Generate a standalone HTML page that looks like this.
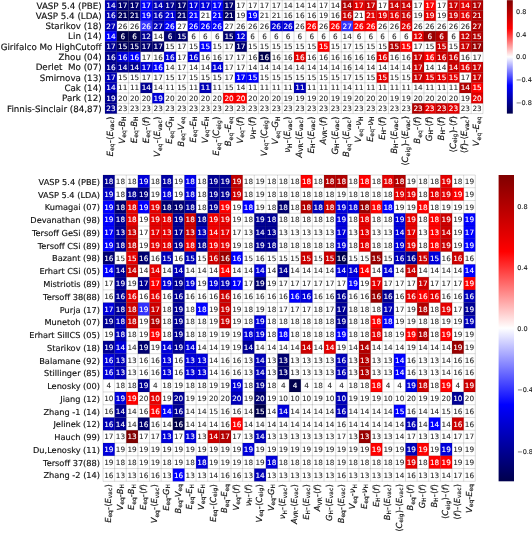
<!DOCTYPE html>
<html><head><meta charset="utf-8"><title>heatmap</title>
<style>html,body{margin:0;padding:0;background:#fff}svg{display:block}text{font-family:"DejaVu Sans","Liberation Sans",sans-serif;text-rendering:geometricPrecision}.a{font-size:7.3px;text-anchor:middle}.w{fill:#fff;stroke:#fff;stroke-width:.1}.k{fill:#222;stroke:#222;stroke-width:.05}.rl{text-anchor:end;fill:#111;stroke:#111;stroke-width:.15}.cl{text-anchor:end;fill:#111;stroke:#111;stroke-width:.15}.i{font-style:italic}.cb{font-size:6.5px;fill:#222;stroke:#222;stroke-width:.1}</style></head><body>
<svg width="532" height="534" viewBox="0 0 532 534">
<defs><linearGradient id="sg" x1="0" y1="0" x2="0" y2="1"><stop offset="0" stop-color="#800000"/><stop offset="0.25" stop-color="#ff0000"/><stop offset="0.5" stop-color="#ffffff"/><stop offset="0.75" stop-color="#0000ff"/><stop offset="1" stop-color="#00004c"/></linearGradient></defs>
<rect width="532" height="534" fill="#fff"/>
<g>
<rect x="105" y="0.2" width="11.86" height="10.36" fill="#0000b8"/><rect x="116.81" y="0.2" width="11.86" height="10.36" fill="#000070"/><rect x="128.62" y="0.2" width="11.86" height="10.36" fill="#000070"/><rect x="140.44" y="0.2" width="11.86" height="10.36" fill="#0000ff"/><rect x="152.25" y="0.2" width="11.86" height="10.36" fill="#0000b8"/><rect x="164.06" y="0.2" width="11.86" height="10.36" fill="#000094"/><rect x="175.88" y="0.2" width="11.86" height="10.36" fill="#000070"/><rect x="187.69" y="0.2" width="11.86" height="10.36" fill="#0000db"/><rect x="199.5" y="0.2" width="11.86" height="10.36" fill="#0000db"/><rect x="211.31" y="0.2" width="11.86" height="10.36" fill="#0000ff"/><rect x="223.12" y="0.2" width="11.86" height="10.36" fill="#000070"/><rect x="341.25" y="0.2" width="11.86" height="10.36" fill="#b20000"/><rect x="353.06" y="0.2" width="11.86" height="10.36" fill="#e50000"/><rect x="364.88" y="0.2" width="11.86" height="10.36" fill="#cc0000"/><rect x="388.5" y="0.2" width="11.86" height="10.36" fill="#cc0000"/><rect x="400.31" y="0.2" width="11.86" height="10.36" fill="#cc0000"/><rect x="423.94" y="0.2" width="11.86" height="10.36" fill="#ff0000"/><rect x="447.56" y="0.2" width="11.86" height="10.36" fill="#cc0000"/><rect x="459.38" y="0.2" width="11.86" height="10.36" fill="#e50000"/><rect x="471.19" y="0.2" width="11.86" height="10.36" fill="#b20000"/>
<rect x="105" y="10.51" width="11.86" height="10.36" fill="#0000b8"/><rect x="116.81" y="10.51" width="11.86" height="10.36" fill="#00005e"/><rect x="128.62" y="10.51" width="11.86" height="10.36" fill="#00005e"/><rect x="140.44" y="10.51" width="11.86" height="10.36" fill="#0000ff"/><rect x="152.25" y="10.51" width="11.86" height="10.36" fill="#0000b8"/><rect x="164.06" y="10.51" width="11.86" height="10.36" fill="#0000db"/><rect x="175.88" y="10.51" width="11.86" height="10.36" fill="#000070"/><rect x="187.69" y="10.51" width="11.86" height="10.36" fill="#0000ff"/><rect x="211.31" y="10.51" width="11.86" height="10.36" fill="#0000ff"/><rect x="223.12" y="10.51" width="11.86" height="10.36" fill="#00005e"/><rect x="246.75" y="10.51" width="11.86" height="10.36" fill="#0000ff"/><rect x="341.25" y="10.51" width="11.86" height="10.36" fill="#cc0000"/><rect x="364.88" y="10.51" width="11.86" height="10.36" fill="#e50000"/><rect x="376.69" y="10.51" width="11.86" height="10.36" fill="#e50000"/><rect x="388.5" y="10.51" width="11.86" height="10.36" fill="#e50000"/><rect x="400.31" y="10.51" width="11.86" height="10.36" fill="#cc0000"/><rect x="423.94" y="10.51" width="11.86" height="10.36" fill="#e50000"/><rect x="447.56" y="10.51" width="11.86" height="10.36" fill="#cc0000"/><rect x="459.38" y="10.51" width="11.86" height="10.36" fill="#e50000"/><rect x="471.19" y="10.51" width="11.86" height="10.36" fill="#b20000"/>
<rect x="105" y="20.82" width="11.86" height="10.36" fill="#0000b8"/><rect x="140.44" y="20.82" width="11.86" height="10.36" fill="#3333ff"/><rect x="152.25" y="20.82" width="11.86" height="10.36" fill="#0000b8"/><rect x="164.06" y="20.82" width="11.86" height="10.36" fill="#0000ff"/><rect x="187.69" y="20.82" width="11.86" height="10.36" fill="#0000ff"/><rect x="199.5" y="20.82" width="11.86" height="10.36" fill="#0000ff"/><rect x="211.31" y="20.82" width="11.86" height="10.36" fill="#0000ff"/><rect x="270.38" y="20.82" width="11.86" height="10.36" fill="#0000db"/><rect x="282.19" y="20.82" width="11.86" height="10.36" fill="#0000db"/><rect x="305.81" y="20.82" width="11.86" height="10.36" fill="#ff0000"/><rect x="329.44" y="20.82" width="11.86" height="10.36" fill="#ff0000"/><rect x="341.25" y="20.82" width="11.86" height="10.36" fill="#3333ff"/><rect x="353.06" y="20.82" width="11.86" height="10.36" fill="#ff0000"/><rect x="364.88" y="20.82" width="11.86" height="10.36" fill="#ff0000"/><rect x="400.31" y="20.82" width="11.86" height="10.36" fill="#e50000"/><rect x="471.19" y="20.82" width="11.86" height="10.36" fill="#b20000"/>
<rect x="105" y="31.13" width="11.86" height="10.36" fill="#0000ff"/><rect x="116.81" y="31.13" width="11.86" height="10.36" fill="#00004c"/><rect x="128.62" y="31.13" width="11.86" height="10.36" fill="#00004c"/><rect x="140.44" y="31.13" width="11.86" height="10.36" fill="#000094"/><rect x="164.06" y="31.13" width="11.86" height="10.36" fill="#000070"/><rect x="175.88" y="31.13" width="11.86" height="10.36" fill="#000070"/><rect x="223.12" y="31.13" width="11.86" height="10.36" fill="#000070"/><rect x="234.94" y="31.13" width="11.86" height="10.36" fill="#0000db"/><rect x="412.12" y="31.13" width="11.86" height="10.36" fill="#e50000"/><rect x="423.94" y="31.13" width="11.86" height="10.36" fill="#990000"/><rect x="435.75" y="31.13" width="11.86" height="10.36" fill="#b20000"/><rect x="459.38" y="31.13" width="11.86" height="10.36" fill="#cc0000"/><rect x="471.19" y="31.13" width="11.86" height="10.36" fill="#b20000"/>
<rect x="105" y="41.44" width="11.86" height="10.36" fill="#000094"/><rect x="116.81" y="41.44" width="11.86" height="10.36" fill="#00005e"/><rect x="128.62" y="41.44" width="11.86" height="10.36" fill="#00005e"/><rect x="140.44" y="41.44" width="11.86" height="10.36" fill="#000070"/><rect x="152.25" y="41.44" width="11.86" height="10.36" fill="#000070"/><rect x="199.5" y="41.44" width="11.86" height="10.36" fill="#0000ff"/><rect x="234.94" y="41.44" width="11.86" height="10.36" fill="#000070"/><rect x="317.62" y="41.44" width="11.86" height="10.36" fill="#ff0000"/><rect x="388.5" y="41.44" width="11.86" height="10.36" fill="#b20000"/><rect x="400.31" y="41.44" width="11.86" height="10.36" fill="#ff0000"/><rect x="435.75" y="41.44" width="11.86" height="10.36" fill="#cc0000"/><rect x="459.38" y="41.44" width="11.86" height="10.36" fill="#cc0000"/><rect x="471.19" y="41.44" width="11.86" height="10.36" fill="#990000"/>
<rect x="105" y="51.75" width="11.86" height="10.36" fill="#000094"/><rect x="116.81" y="51.75" width="11.86" height="10.36" fill="#0000db"/><rect x="128.62" y="51.75" width="11.86" height="10.36" fill="#0000ff"/><rect x="164.06" y="51.75" width="11.86" height="10.36" fill="#0000db"/><rect x="187.69" y="51.75" width="11.86" height="10.36" fill="#0000db"/><rect x="258.56" y="51.75" width="11.86" height="10.36" fill="#00004c"/><rect x="294" y="51.75" width="11.86" height="10.36" fill="#e50000"/><rect x="376.69" y="51.75" width="11.86" height="10.36" fill="#e50000"/><rect x="412.12" y="51.75" width="11.86" height="10.36" fill="#cc0000"/><rect x="423.94" y="51.75" width="11.86" height="10.36" fill="#ff0000"/><rect x="435.75" y="51.75" width="11.86" height="10.36" fill="#cc0000"/><rect x="447.56" y="51.75" width="11.86" height="10.36" fill="#cc0000"/>
<rect x="105" y="62.05" width="11.86" height="10.36" fill="#000094"/><rect x="116.81" y="62.05" width="11.86" height="10.36" fill="#000094"/><rect x="128.62" y="62.05" width="11.86" height="10.36" fill="#000094"/><rect x="140.44" y="62.05" width="11.86" height="10.36" fill="#0000db"/><rect x="152.25" y="62.05" width="11.86" height="10.36" fill="#0000ff"/><rect x="211.31" y="62.05" width="11.86" height="10.36" fill="#0000db"/><rect x="412.12" y="62.05" width="11.86" height="10.36" fill="#cc0000"/><rect x="447.56" y="62.05" width="11.86" height="10.36" fill="#cc0000"/><rect x="459.38" y="62.05" width="11.86" height="10.36" fill="#e50000"/><rect x="471.19" y="62.05" width="11.86" height="10.36" fill="#cc0000"/>
<rect x="105" y="72.36" width="11.86" height="10.36" fill="#0000b8"/><rect x="234.94" y="72.36" width="11.86" height="10.36" fill="#0000ff"/><rect x="246.75" y="72.36" width="11.86" height="10.36" fill="#0000ff"/><rect x="376.69" y="72.36" width="11.86" height="10.36" fill="#e50000"/><rect x="412.12" y="72.36" width="11.86" height="10.36" fill="#cc0000"/><rect x="423.94" y="72.36" width="11.86" height="10.36" fill="#e50000"/><rect x="435.75" y="72.36" width="11.86" height="10.36" fill="#e50000"/><rect x="447.56" y="72.36" width="11.86" height="10.36" fill="#e50000"/><rect x="471.19" y="72.36" width="11.86" height="10.36" fill="#cc0000"/>
<rect x="105" y="82.67" width="11.86" height="10.36" fill="#0000b8"/><rect x="140.44" y="82.67" width="11.86" height="10.36" fill="#000094"/><rect x="199.5" y="82.67" width="11.86" height="10.36" fill="#0000b8"/><rect x="294" y="82.67" width="11.86" height="10.36" fill="#0000b8"/><rect x="459.38" y="82.67" width="11.86" height="10.36" fill="#b20000"/><rect x="471.19" y="82.67" width="11.86" height="10.36" fill="#ff0000"/>
<rect x="105" y="92.98" width="11.86" height="10.36" fill="#000094"/><rect x="152.25" y="92.98" width="11.86" height="10.36" fill="#0000db"/><rect x="223.12" y="92.98" width="11.86" height="10.36" fill="#ff0000"/><rect x="234.94" y="92.98" width="11.86" height="10.36" fill="#ff0000"/><rect x="471.19" y="92.98" width="11.86" height="10.36" fill="#e50000"/>
<rect x="105" y="103.29" width="11.86" height="10.36" fill="#000094"/><rect x="412.12" y="103.29" width="11.86" height="10.36" fill="#b20000"/><rect x="423.94" y="103.29" width="11.86" height="10.36" fill="#e50000"/><rect x="435.75" y="103.29" width="11.86" height="10.36" fill="#cc0000"/><rect x="447.56" y="103.29" width="11.86" height="10.36" fill="#e50000"/>
<path d="M105 0.2V113.6M116.81 0.2V113.6M128.62 0.2V113.6M140.44 0.2V113.6M152.25 0.2V113.6M164.06 0.2V113.6M175.88 0.2V113.6M187.69 0.2V113.6M199.5 0.2V113.6M211.31 0.2V113.6M223.12 0.2V113.6M234.94 0.2V113.6M246.75 0.2V113.6M258.56 0.2V113.6M270.38 0.2V113.6M282.19 0.2V113.6M294 0.2V113.6M305.81 0.2V113.6M317.62 0.2V113.6M329.44 0.2V113.6M341.25 0.2V113.6M353.06 0.2V113.6M364.88 0.2V113.6M376.69 0.2V113.6M388.5 0.2V113.6M400.31 0.2V113.6M412.12 0.2V113.6M423.94 0.2V113.6M435.75 0.2V113.6M447.56 0.2V113.6M459.38 0.2V113.6M471.19 0.2V113.6M483 0.2V113.6M105 0.2H483M105 10.51H483M105 20.82H483M105 31.13H483M105 41.44H483M105 51.75H483M105 62.05H483M105 72.36H483M105 82.67H483M105 92.98H483M105 103.29H483M105 113.6H483" stroke="#000" stroke-opacity="0.2" stroke-width="0.7" fill="none"/>
<g class="a w"><text x="110.91" y="8.02">14</text><text x="122.72" y="8.02">17</text><text x="134.53" y="8.02">17</text><text x="146.34" y="8.02">17</text><text x="158.16" y="8.02">14</text><text x="169.97" y="8.02">17</text><text x="181.78" y="8.02">17</text><text x="193.59" y="8.02">17</text><text x="205.41" y="8.02">17</text><text x="217.22" y="8.02">17</text><text x="229.03" y="8.02">17</text><text x="347.16" y="8.02">14</text><text x="358.97" y="8.02">17</text><text x="370.78" y="8.02">17</text><text x="394.41" y="8.02">14</text><text x="406.22" y="8.02">14</text><text x="429.84" y="8.02">17</text><text x="453.47" y="8.02">17</text><text x="465.28" y="8.02">14</text><text x="477.09" y="8.02">17</text></g><g class="a k"><text x="240.84" y="8.02">17</text><text x="252.66" y="8.02">17</text><text x="264.47" y="8.02">17</text><text x="276.28" y="8.02">17</text><text x="288.09" y="8.02">14</text><text x="299.91" y="8.02">14</text><text x="311.72" y="8.02">14</text><text x="323.53" y="8.02">17</text><text x="335.34" y="8.02">14</text><text x="382.59" y="8.02">17</text><text x="418.03" y="8.02">17</text><text x="441.66" y="8.02">17</text></g>
<g class="a w"><text x="110.91" y="18.33">16</text><text x="122.72" y="18.33">21</text><text x="134.53" y="18.33">21</text><text x="146.34" y="18.33">19</text><text x="158.16" y="18.33">16</text><text x="169.97" y="18.33">21</text><text x="181.78" y="18.33">21</text><text x="193.59" y="18.33">21</text><text x="217.22" y="18.33">21</text><text x="229.03" y="18.33">21</text><text x="252.66" y="18.33">19</text><text x="347.16" y="18.33">16</text><text x="370.78" y="18.33">21</text><text x="382.59" y="18.33">19</text><text x="394.41" y="18.33">16</text><text x="406.22" y="18.33">16</text><text x="429.84" y="18.33">19</text><text x="453.47" y="18.33">19</text><text x="465.28" y="18.33">16</text><text x="477.09" y="18.33">21</text></g><g class="a k"><text x="205.41" y="18.33">21</text><text x="240.84" y="18.33">19</text><text x="264.47" y="18.33">21</text><text x="276.28" y="18.33">21</text><text x="288.09" y="18.33">16</text><text x="299.91" y="18.33">16</text><text x="311.72" y="18.33">16</text><text x="323.53" y="18.33">19</text><text x="335.34" y="18.33">16</text><text x="358.97" y="18.33">21</text><text x="418.03" y="18.33">19</text><text x="441.66" y="18.33">19</text></g>
<g class="a w"><text x="110.91" y="28.64">27</text><text x="146.34" y="28.64">26</text><text x="158.16" y="28.64">27</text><text x="169.97" y="28.64">26</text><text x="193.59" y="28.64">26</text><text x="205.41" y="28.64">26</text><text x="217.22" y="28.64">26</text><text x="276.28" y="28.64">26</text><text x="288.09" y="28.64">26</text><text x="311.72" y="28.64">26</text><text x="335.34" y="28.64">26</text><text x="347.16" y="28.64">27</text><text x="358.97" y="28.64">26</text><text x="370.78" y="28.64">26</text><text x="406.22" y="28.64">26</text><text x="477.09" y="28.64">27</text></g><g class="a k"><text x="122.72" y="28.64">26</text><text x="134.53" y="28.64">26</text><text x="181.78" y="28.64">27</text><text x="229.03" y="28.64">27</text><text x="240.84" y="28.64">26</text><text x="252.66" y="28.64">26</text><text x="264.47" y="28.64">26</text><text x="299.91" y="28.64">26</text><text x="323.53" y="28.64">26</text><text x="382.59" y="28.64">26</text><text x="394.41" y="28.64">26</text><text x="418.03" y="28.64">26</text><text x="429.84" y="28.64">26</text><text x="441.66" y="28.64">26</text><text x="453.47" y="28.64">26</text><text x="465.28" y="28.64">26</text></g>
<g class="a w"><text x="110.91" y="38.95">14</text><text x="122.72" y="38.95">6</text><text x="134.53" y="38.95">6</text><text x="146.34" y="38.95">12</text><text x="169.97" y="38.95">6</text><text x="181.78" y="38.95">15</text><text x="229.03" y="38.95">15</text><text x="240.84" y="38.95">12</text><text x="418.03" y="38.95">12</text><text x="429.84" y="38.95">6</text><text x="441.66" y="38.95">6</text><text x="465.28" y="38.95">12</text><text x="477.09" y="38.95">15</text></g><g class="a k"><text x="158.16" y="38.95">14</text><text x="193.59" y="38.95">6</text><text x="205.41" y="38.95">6</text><text x="217.22" y="38.95">6</text><text x="252.66" y="38.95">6</text><text x="264.47" y="38.95">6</text><text x="276.28" y="38.95">6</text><text x="288.09" y="38.95">6</text><text x="299.91" y="38.95">6</text><text x="311.72" y="38.95">6</text><text x="323.53" y="38.95">6</text><text x="335.34" y="38.95">6</text><text x="347.16" y="38.95">14</text><text x="358.97" y="38.95">6</text><text x="370.78" y="38.95">6</text><text x="382.59" y="38.95">6</text><text x="394.41" y="38.95">6</text><text x="406.22" y="38.95">6</text><text x="453.47" y="38.95">6</text></g>
<g class="a w"><text x="110.91" y="49.26">17</text><text x="122.72" y="49.26">15</text><text x="134.53" y="49.26">15</text><text x="146.34" y="49.26">17</text><text x="158.16" y="49.26">17</text><text x="205.41" y="49.26">15</text><text x="240.84" y="49.26">17</text><text x="323.53" y="49.26">15</text><text x="394.41" y="49.26">15</text><text x="406.22" y="49.26">15</text><text x="441.66" y="49.26">15</text><text x="465.28" y="49.26">17</text><text x="477.09" y="49.26">17</text></g><g class="a k"><text x="169.97" y="49.26">15</text><text x="181.78" y="49.26">17</text><text x="193.59" y="49.26">15</text><text x="217.22" y="49.26">15</text><text x="229.03" y="49.26">17</text><text x="252.66" y="49.26">15</text><text x="264.47" y="49.26">15</text><text x="276.28" y="49.26">15</text><text x="288.09" y="49.26">15</text><text x="299.91" y="49.26">15</text><text x="311.72" y="49.26">15</text><text x="335.34" y="49.26">15</text><text x="347.16" y="49.26">17</text><text x="358.97" y="49.26">15</text><text x="370.78" y="49.26">15</text><text x="382.59" y="49.26">15</text><text x="418.03" y="49.26">17</text><text x="429.84" y="49.26">15</text><text x="453.47" y="49.26">15</text></g>
<g class="a w"><text x="110.91" y="59.56">16</text><text x="122.72" y="59.56">16</text><text x="134.53" y="59.56">16</text><text x="169.97" y="59.56">16</text><text x="193.59" y="59.56">16</text><text x="264.47" y="59.56">16</text><text x="299.91" y="59.56">16</text><text x="382.59" y="59.56">16</text><text x="418.03" y="59.56">17</text><text x="429.84" y="59.56">16</text><text x="441.66" y="59.56">16</text><text x="453.47" y="59.56">16</text></g><g class="a k"><text x="146.34" y="59.56">17</text><text x="158.16" y="59.56">16</text><text x="181.78" y="59.56">17</text><text x="205.41" y="59.56">16</text><text x="217.22" y="59.56">16</text><text x="229.03" y="59.56">17</text><text x="240.84" y="59.56">17</text><text x="252.66" y="59.56">16</text><text x="276.28" y="59.56">16</text><text x="288.09" y="59.56">16</text><text x="311.72" y="59.56">16</text><text x="323.53" y="59.56">16</text><text x="335.34" y="59.56">16</text><text x="347.16" y="59.56">16</text><text x="358.97" y="59.56">16</text><text x="370.78" y="59.56">16</text><text x="394.41" y="59.56">16</text><text x="406.22" y="59.56">16</text><text x="465.28" y="59.56">16</text><text x="477.09" y="59.56">17</text></g>
<g class="a w"><text x="110.91" y="69.87">16</text><text x="122.72" y="69.87">14</text><text x="134.53" y="69.87">14</text><text x="146.34" y="69.87">17</text><text x="158.16" y="69.87">16</text><text x="217.22" y="69.87">14</text><text x="418.03" y="69.87">17</text><text x="453.47" y="69.87">14</text><text x="465.28" y="69.87">16</text><text x="477.09" y="69.87">17</text></g><g class="a k"><text x="169.97" y="69.87">14</text><text x="181.78" y="69.87">17</text><text x="193.59" y="69.87">14</text><text x="205.41" y="69.87">14</text><text x="229.03" y="69.87">17</text><text x="240.84" y="69.87">17</text><text x="252.66" y="69.87">14</text><text x="264.47" y="69.87">14</text><text x="276.28" y="69.87">14</text><text x="288.09" y="69.87">14</text><text x="299.91" y="69.87">14</text><text x="311.72" y="69.87">14</text><text x="323.53" y="69.87">14</text><text x="335.34" y="69.87">14</text><text x="347.16" y="69.87">16</text><text x="358.97" y="69.87">14</text><text x="370.78" y="69.87">14</text><text x="382.59" y="69.87">14</text><text x="394.41" y="69.87">14</text><text x="406.22" y="69.87">14</text><text x="429.84" y="69.87">14</text><text x="441.66" y="69.87">14</text></g>
<g class="a w"><text x="110.91" y="80.18">17</text><text x="240.84" y="80.18">17</text><text x="252.66" y="80.18">15</text><text x="382.59" y="80.18">15</text><text x="418.03" y="80.18">17</text><text x="429.84" y="80.18">15</text><text x="441.66" y="80.18">15</text><text x="453.47" y="80.18">15</text><text x="477.09" y="80.18">17</text></g><g class="a k"><text x="122.72" y="80.18">15</text><text x="134.53" y="80.18">15</text><text x="146.34" y="80.18">17</text><text x="158.16" y="80.18">17</text><text x="169.97" y="80.18">15</text><text x="181.78" y="80.18">17</text><text x="193.59" y="80.18">15</text><text x="205.41" y="80.18">15</text><text x="217.22" y="80.18">15</text><text x="229.03" y="80.18">17</text><text x="264.47" y="80.18">15</text><text x="276.28" y="80.18">15</text><text x="288.09" y="80.18">15</text><text x="299.91" y="80.18">15</text><text x="311.72" y="80.18">15</text><text x="323.53" y="80.18">15</text><text x="335.34" y="80.18">15</text><text x="347.16" y="80.18">17</text><text x="358.97" y="80.18">15</text><text x="370.78" y="80.18">15</text><text x="394.41" y="80.18">15</text><text x="406.22" y="80.18">15</text><text x="465.28" y="80.18">17</text></g>
<g class="a w"><text x="110.91" y="90.49">14</text><text x="146.34" y="90.49">14</text><text x="205.41" y="90.49">11</text><text x="299.91" y="90.49">11</text><text x="465.28" y="90.49">14</text><text x="477.09" y="90.49">15</text></g><g class="a k"><text x="122.72" y="90.49">11</text><text x="134.53" y="90.49">11</text><text x="158.16" y="90.49">14</text><text x="169.97" y="90.49">11</text><text x="181.78" y="90.49">15</text><text x="193.59" y="90.49">11</text><text x="217.22" y="90.49">11</text><text x="229.03" y="90.49">15</text><text x="240.84" y="90.49">14</text><text x="252.66" y="90.49">11</text><text x="264.47" y="90.49">11</text><text x="276.28" y="90.49">11</text><text x="288.09" y="90.49">11</text><text x="311.72" y="90.49">11</text><text x="323.53" y="90.49">11</text><text x="335.34" y="90.49">11</text><text x="347.16" y="90.49">14</text><text x="358.97" y="90.49">11</text><text x="370.78" y="90.49">11</text><text x="382.59" y="90.49">11</text><text x="394.41" y="90.49">11</text><text x="406.22" y="90.49">11</text><text x="418.03" y="90.49">14</text><text x="429.84" y="90.49">11</text><text x="441.66" y="90.49">11</text><text x="453.47" y="90.49">11</text></g>
<g class="a w"><text x="110.91" y="100.8">19</text><text x="158.16" y="100.8">19</text><text x="229.03" y="100.8">20</text><text x="240.84" y="100.8">20</text><text x="477.09" y="100.8">20</text></g><g class="a k"><text x="122.72" y="100.8">20</text><text x="134.53" y="100.8">20</text><text x="146.34" y="100.8">20</text><text x="169.97" y="100.8">20</text><text x="181.78" y="100.8">20</text><text x="193.59" y="100.8">20</text><text x="205.41" y="100.8">20</text><text x="217.22" y="100.8">20</text><text x="252.66" y="100.8">20</text><text x="264.47" y="100.8">20</text><text x="276.28" y="100.8">20</text><text x="288.09" y="100.8">19</text><text x="299.91" y="100.8">19</text><text x="311.72" y="100.8">19</text><text x="323.53" y="100.8">20</text><text x="335.34" y="100.8">19</text><text x="347.16" y="100.8">19</text><text x="358.97" y="100.8">20</text><text x="370.78" y="100.8">20</text><text x="382.59" y="100.8">20</text><text x="394.41" y="100.8">19</text><text x="406.22" y="100.8">19</text><text x="418.03" y="100.8">20</text><text x="429.84" y="100.8">20</text><text x="441.66" y="100.8">20</text><text x="453.47" y="100.8">20</text><text x="465.28" y="100.8">19</text></g>
<g class="a w"><text x="110.91" y="111.11">23</text><text x="418.03" y="111.11">23</text><text x="429.84" y="111.11">23</text><text x="441.66" y="111.11">23</text><text x="453.47" y="111.11">23</text></g><g class="a k"><text x="122.72" y="111.11">23</text><text x="134.53" y="111.11">23</text><text x="146.34" y="111.11">23</text><text x="158.16" y="111.11">23</text><text x="169.97" y="111.11">23</text><text x="181.78" y="111.11">23</text><text x="193.59" y="111.11">23</text><text x="205.41" y="111.11">23</text><text x="217.22" y="111.11">23</text><text x="229.03" y="111.11">23</text><text x="240.84" y="111.11">23</text><text x="252.66" y="111.11">23</text><text x="264.47" y="111.11">23</text><text x="276.28" y="111.11">23</text><text x="288.09" y="111.11">23</text><text x="299.91" y="111.11">23</text><text x="311.72" y="111.11">23</text><text x="323.53" y="111.11">23</text><text x="335.34" y="111.11">23</text><text x="347.16" y="111.11">23</text><text x="358.97" y="111.11">23</text><text x="370.78" y="111.11">23</text><text x="382.59" y="111.11">23</text><text x="394.41" y="111.11">23</text><text x="406.22" y="111.11">23</text><text x="465.28" y="111.11">23</text><text x="477.09" y="111.11">23</text></g>
<g class="rl" font-size="8.72"><text x="101.6" y="8.54" xml:space="preserve">VASP 5.4 (PBE)</text><text x="101.6" y="18.85" xml:space="preserve">VASP 5.4 (LDA)</text><text x="101.6" y="29.16" xml:space="preserve">Starikov (18)</text><text x="101.6" y="39.46" xml:space="preserve">Lin (14)</text><text x="101.6" y="49.77" xml:space="preserve">Girifalco Mo HighCutoff</text><text x="101.6" y="60.08" xml:space="preserve">Zhou (04)</text><text x="101.6" y="70.39" xml:space="preserve">Derlet  Mo (07)</text><text x="101.6" y="80.7" xml:space="preserve">Smirnova (13)</text><text x="101.6" y="91.01" xml:space="preserve">Cak (14)</text><text x="101.6" y="101.32" xml:space="preserve">Park (12)</text><text x="101.6" y="111.63" xml:space="preserve">Finnis-Sinclair (84,87)</text></g>
<g class="cl" font-size="8.6"><text transform="translate(113.09 116.3) rotate(-90)"><tspan class="i">E</tspan><tspan dy="1.38" font-size="6.02" letter-spacing="0.12">eq</tspan><tspan dy="-1.38">-</tspan><tspan dx="0.3">⟨</tspan><tspan class="i">E</tspan><tspan dy="1.38" font-size="6.02" letter-spacing="0.12">vac</tspan><tspan dy="-1.38" dx="0.5">⟩</tspan></text>
<text transform="translate(124.9 116.3) rotate(-90)"><tspan class="i">V</tspan><tspan dy="1.38" font-size="6.02" letter-spacing="0.12">eq</tspan><tspan dy="-1.38">-</tspan><tspan class="i">B</tspan><tspan dy="1.38" font-size="6.02" letter-spacing="0.12">H</tspan></text>
<text transform="translate(136.71 116.3) rotate(-90)"><tspan class="i">E</tspan><tspan dy="1.38" font-size="6.02" letter-spacing="0.12">eq</tspan><tspan dy="-1.38">-</tspan><tspan class="i">B</tspan><tspan dy="1.38" font-size="6.02" letter-spacing="0.12">H</tspan></text>
<text transform="translate(148.52 116.3) rotate(-90)"><tspan class="i">E</tspan><tspan dy="1.38" font-size="6.02" letter-spacing="0.12">eq</tspan><tspan dy="-1.38">-</tspan><tspan dx="0.3">⟨</tspan><tspan class="i">f</tspan><tspan dx="0.5">⟩</tspan></text>
<text transform="translate(160.34 116.3) rotate(-90)"><tspan class="i">V</tspan><tspan dy="1.38" font-size="6.02" letter-spacing="0.12">eq</tspan><tspan dy="-1.38">-</tspan><tspan dx="0.3">⟨</tspan><tspan class="i">E</tspan><tspan dy="1.38" font-size="6.02" letter-spacing="0.12">vac</tspan><tspan dy="-1.38" dx="0.5">⟩</tspan></text>
<text transform="translate(172.15 116.3) rotate(-90)"><tspan class="i">E</tspan><tspan dy="1.38" font-size="6.02" letter-spacing="0.12">eq</tspan><tspan dy="-1.38">-</tspan><tspan class="i">G</tspan><tspan dy="1.38" font-size="6.02" letter-spacing="0.12">H</tspan></text>
<text transform="translate(183.96 116.3) rotate(-90)"><tspan class="i">B</tspan><tspan dy="1.38" font-size="6.02" letter-spacing="0.12">eq</tspan><tspan dy="-1.38">-</tspan><tspan class="i">V</tspan><tspan dy="1.38" font-size="6.02" letter-spacing="0.12">eq</tspan></text>
<text transform="translate(195.77 116.3) rotate(-90)"><tspan class="i">E</tspan><tspan dy="1.38" font-size="6.02" letter-spacing="0.12">eq</tspan><tspan dy="-1.38">-</tspan><tspan class="i">E</tspan><tspan dy="1.38" font-size="6.02" letter-spacing="0.12">H</tspan></text>
<text transform="translate(207.59 116.3) rotate(-90)"><tspan class="i">V</tspan><tspan dy="1.38" font-size="6.02" letter-spacing="0.12">eq</tspan><tspan dy="-1.38">-</tspan><tspan class="i">E</tspan><tspan dy="1.38" font-size="6.02" letter-spacing="0.12">H</tspan></text>
<text transform="translate(219.4 116.3) rotate(-90)"><tspan class="i">E</tspan><tspan dy="1.38" font-size="6.02" letter-spacing="0.12">eq</tspan><tspan dy="-1.38">-</tspan><tspan dx="0.3">⟨</tspan><tspan class="i">C</tspan><tspan dy="1.38" font-size="6.02" letter-spacing="0.12">eig</tspan><tspan dy="-1.38" dx="0.5">⟩</tspan></text>
<text transform="translate(231.21 116.3) rotate(-90)"><tspan class="i">B</tspan><tspan dy="1.38" font-size="6.02" letter-spacing="0.12">eq</tspan><tspan dy="-1.38">-</tspan><tspan class="i">E</tspan><tspan dy="1.38" font-size="6.02" letter-spacing="0.12">eq</tspan></text>
<text transform="translate(243.02 116.3) rotate(-90)"><tspan class="i">V</tspan><tspan dy="1.38" font-size="6.02" letter-spacing="0.12">eq</tspan><tspan dy="-1.38">-</tspan><tspan dx="0.3">⟨</tspan><tspan class="i">f</tspan><tspan dx="0.5">⟩</tspan></text>
<text transform="translate(254.84 116.3) rotate(-90)"><tspan class="i">ν</tspan><tspan dy="1.38" font-size="6.02" letter-spacing="0.12">H</tspan><tspan dy="-1.38">-</tspan><tspan dx="0.3">⟨</tspan><tspan class="i">f</tspan><tspan dx="0.5">⟩</tspan></text>
<text transform="translate(266.65 116.3) rotate(-90)"><tspan class="i">V</tspan><tspan dy="1.38" font-size="6.02" letter-spacing="0.12">eq</tspan><tspan dy="-1.38">-</tspan><tspan dx="0.3">⟨</tspan><tspan class="i">C</tspan><tspan dy="1.38" font-size="6.02" letter-spacing="0.12">eig</tspan><tspan dy="-1.38" dx="0.5">⟩</tspan></text>
<text transform="translate(278.46 116.3) rotate(-90)"><tspan class="i">V</tspan><tspan dy="1.38" font-size="6.02" letter-spacing="0.12">eq</tspan><tspan dy="-1.38">-</tspan><tspan class="i">G</tspan><tspan dy="1.38" font-size="6.02" letter-spacing="0.12">H</tspan></text>
<text transform="translate(290.27 116.3) rotate(-90)"><tspan class="i">ν</tspan><tspan dy="1.38" font-size="6.02" letter-spacing="0.12">H</tspan><tspan dy="-1.38">-</tspan><tspan dx="0.3">⟨</tspan><tspan class="i">E</tspan><tspan dy="1.38" font-size="6.02" letter-spacing="0.12">vac</tspan><tspan dy="-1.38" dx="0.5">⟩</tspan></text>
<text transform="translate(302.09 116.3) rotate(-90)"><tspan class="i">A</tspan><tspan dy="1.38" font-size="6.02" letter-spacing="0.12">VR</tspan><tspan dy="-1.38">-</tspan><tspan dx="0.3">⟨</tspan><tspan class="i">E</tspan><tspan dy="1.38" font-size="6.02" letter-spacing="0.12">vac</tspan><tspan dy="-1.38" dx="0.5">⟩</tspan></text>
<text transform="translate(313.9 116.3) rotate(-90)"><tspan class="i">E</tspan><tspan dy="1.38" font-size="6.02" letter-spacing="0.12">H</tspan><tspan dy="-1.38">-</tspan><tspan dx="0.3">⟨</tspan><tspan class="i">E</tspan><tspan dy="1.38" font-size="6.02" letter-spacing="0.12">vac</tspan><tspan dy="-1.38" dx="0.5">⟩</tspan></text>
<text transform="translate(325.71 116.3) rotate(-90)"><tspan class="i">A</tspan><tspan dy="1.38" font-size="6.02" letter-spacing="0.12">VR</tspan><tspan dy="-1.38">-</tspan><tspan dx="0.3">⟨</tspan><tspan class="i">f</tspan><tspan dx="0.5">⟩</tspan></text>
<text transform="translate(337.52 116.3) rotate(-90)"><tspan class="i">G</tspan><tspan dy="1.38" font-size="6.02" letter-spacing="0.12">H</tspan><tspan dy="-1.38">-</tspan><tspan dx="0.3">⟨</tspan><tspan class="i">E</tspan><tspan dy="1.38" font-size="6.02" letter-spacing="0.12">vac</tspan><tspan dy="-1.38" dx="0.5">⟩</tspan></text>
<text transform="translate(349.34 116.3) rotate(-90)"><tspan class="i">B</tspan><tspan dy="1.38" font-size="6.02" letter-spacing="0.12">eq</tspan><tspan dy="-1.38">-</tspan><tspan dx="0.3">⟨</tspan><tspan class="i">E</tspan><tspan dy="1.38" font-size="6.02" letter-spacing="0.12">vac</tspan><tspan dy="-1.38" dx="0.5">⟩</tspan></text>
<text transform="translate(361.15 116.3) rotate(-90)"><tspan class="i">V</tspan><tspan dy="1.38" font-size="6.02" letter-spacing="0.12">eq</tspan><tspan dy="-1.38">-</tspan><tspan class="i">ν</tspan><tspan dy="1.38" font-size="6.02" letter-spacing="0.12">H</tspan></text>
<text transform="translate(372.96 116.3) rotate(-90)"><tspan class="i">E</tspan><tspan dy="1.38" font-size="6.02" letter-spacing="0.12">eq</tspan><tspan dy="-1.38">-</tspan><tspan class="i">ν</tspan><tspan dy="1.38" font-size="6.02" letter-spacing="0.12">H</tspan></text>
<text transform="translate(384.77 116.3) rotate(-90)"><tspan class="i">E</tspan><tspan dy="1.38" font-size="6.02" letter-spacing="0.12">H</tspan><tspan dy="-1.38">-</tspan><tspan dx="0.3">⟨</tspan><tspan class="i">f</tspan><tspan dx="0.5">⟩</tspan></text>
<text transform="translate(396.59 116.3) rotate(-90)"><tspan class="i">B</tspan><tspan dy="1.38" font-size="6.02" letter-spacing="0.12">H</tspan><tspan dy="-1.38">-</tspan><tspan dx="0.3">⟨</tspan><tspan class="i">E</tspan><tspan dy="1.38" font-size="6.02" letter-spacing="0.12">vac</tspan><tspan dy="-1.38" dx="0.5">⟩</tspan></text>
<text transform="translate(408.4 116.3) rotate(-90)"><tspan dx="0.3">⟨</tspan><tspan class="i">C</tspan><tspan dy="1.38" font-size="6.02" letter-spacing="0.12">eig</tspan><tspan dy="-1.38" dx="0.5">⟩</tspan><tspan>-</tspan><tspan dx="0.3">⟨</tspan><tspan class="i">E</tspan><tspan dy="1.38" font-size="6.02" letter-spacing="0.12">vac</tspan><tspan dy="-1.38" dx="0.5">⟩</tspan></text>
<text transform="translate(420.21 116.3) rotate(-90)"><tspan class="i">B</tspan><tspan dy="1.38" font-size="6.02" letter-spacing="0.12">eq</tspan><tspan dy="-1.38">-</tspan><tspan dx="0.3">⟨</tspan><tspan class="i">f</tspan><tspan dx="0.5">⟩</tspan></text>
<text transform="translate(432.02 116.3) rotate(-90)"><tspan class="i">G</tspan><tspan dy="1.38" font-size="6.02" letter-spacing="0.12">H</tspan><tspan dy="-1.38">-</tspan><tspan dx="0.3">⟨</tspan><tspan class="i">f</tspan><tspan dx="0.5">⟩</tspan></text>
<text transform="translate(443.84 116.3) rotate(-90)"><tspan class="i">B</tspan><tspan dy="1.38" font-size="6.02" letter-spacing="0.12">H</tspan><tspan dy="-1.38">-</tspan><tspan dx="0.3">⟨</tspan><tspan class="i">f</tspan><tspan dx="0.5">⟩</tspan></text>
<text transform="translate(455.65 116.3) rotate(-90)"><tspan dx="0.3">⟨</tspan><tspan class="i">C</tspan><tspan dy="1.38" font-size="6.02" letter-spacing="0.12">eig</tspan><tspan dy="-1.38" dx="0.5">⟩</tspan><tspan>-</tspan><tspan dx="0.3">⟨</tspan><tspan class="i">f</tspan><tspan dx="0.5">⟩</tspan></text>
<text transform="translate(467.46 116.3) rotate(-90)"><tspan dx="0.3">⟨</tspan><tspan class="i">f</tspan><tspan dx="0.5">⟩</tspan><tspan>-</tspan><tspan dx="0.3">⟨</tspan><tspan class="i">E</tspan><tspan dy="1.38" font-size="6.02" letter-spacing="0.12">vac</tspan><tspan dy="-1.38" dx="0.5">⟩</tspan></text>
<text transform="translate(479.27 116.3) rotate(-90)"><tspan class="i">V</tspan><tspan dy="1.38" font-size="6.02" letter-spacing="0.12">eq</tspan><tspan dy="-1.38">-</tspan><tspan class="i">E</tspan><tspan dy="1.38" font-size="6.02" letter-spacing="0.12">eq</tspan></text>
</g>
<rect x="506.9" y="0.2" width="5.9" height="113.4" fill="url(#sg)"/>
<g class="cb"><text x="516" y="14.11">0.8</text><text x="516" y="36.79">0.4</text><text x="516" y="59.47">0.0</text><text x="516" y="82.15">−0.4</text><text x="516" y="104.83">−0.8</text></g>
</g>
<g>
<rect x="103" y="175" width="11.68" height="12.81" fill="#000094"/><rect x="137.9" y="175" width="11.68" height="12.81" fill="#0000db"/><rect x="161.17" y="175" width="11.68" height="12.81" fill="#0000a6"/><rect x="184.44" y="175" width="11.68" height="12.81" fill="#0000ed"/><rect x="207.71" y="175" width="11.68" height="12.81" fill="#000094"/><rect x="219.34" y="175" width="11.68" height="12.81" fill="#000094"/><rect x="230.98" y="175" width="11.68" height="12.81" fill="#bf0000"/><rect x="300.78" y="175" width="11.68" height="12.81" fill="#ff0000"/><rect x="324.05" y="175" width="11.68" height="12.81" fill="#b20000"/><rect x="335.69" y="175" width="11.68" height="12.81" fill="#b20000"/><rect x="358.96" y="175" width="11.68" height="12.81" fill="#ff0000"/><rect x="382.23" y="175" width="11.68" height="12.81" fill="#e50000"/><rect x="393.86" y="175" width="11.68" height="12.81" fill="#b20000"/><rect x="440.4" y="175" width="11.68" height="12.81" fill="#e50000"/>
<rect x="103" y="187.76" width="11.68" height="12.81" fill="#0000c9"/><rect x="126.27" y="187.76" width="11.68" height="12.81" fill="#000094"/><rect x="137.9" y="187.76" width="11.68" height="12.81" fill="#000082"/><rect x="161.17" y="187.76" width="11.68" height="12.81" fill="#0000db"/><rect x="184.44" y="187.76" width="11.68" height="12.81" fill="#0000db"/><rect x="207.71" y="187.76" width="11.68" height="12.81" fill="#000094"/><rect x="219.34" y="187.76" width="11.68" height="12.81" fill="#000094"/><rect x="230.98" y="187.76" width="11.68" height="12.81" fill="#cc0000"/><rect x="393.86" y="187.76" width="11.68" height="12.81" fill="#e50000"/><rect x="405.49" y="187.76" width="11.68" height="12.81" fill="#e50000"/><rect x="428.76" y="187.76" width="11.68" height="12.81" fill="#e50000"/><rect x="440.4" y="187.76" width="11.68" height="12.81" fill="#e50000"/><rect x="452.03" y="187.76" width="11.68" height="12.81" fill="#ff0000"/>
<rect x="103" y="200.53" width="11.68" height="12.81" fill="#0000ff"/><rect x="114.63" y="200.53" width="11.68" height="12.81" fill="#000070"/><rect x="126.27" y="200.53" width="11.68" height="12.81" fill="#e50000"/><rect x="137.9" y="200.53" width="11.68" height="12.81" fill="#0000ff"/><rect x="149.54" y="200.53" width="11.68" height="12.81" fill="#e50000"/><rect x="161.17" y="200.53" width="11.68" height="12.81" fill="#000070"/><rect x="172.81" y="200.53" width="11.68" height="12.81" fill="#000070"/><rect x="184.44" y="200.53" width="11.68" height="12.81" fill="#000094"/><rect x="207.71" y="200.53" width="11.68" height="12.81" fill="#000094"/><rect x="219.34" y="200.53" width="11.68" height="12.81" fill="#ff0000"/><rect x="242.61" y="200.53" width="11.68" height="12.81" fill="#0000ff"/><rect x="277.52" y="200.53" width="11.68" height="12.81" fill="#000070"/><rect x="300.78" y="200.53" width="11.68" height="12.81" fill="#b20000"/><rect x="312.42" y="200.53" width="11.68" height="12.81" fill="#0000b8"/><rect x="324.05" y="200.53" width="11.68" height="12.81" fill="#cc0000"/><rect x="335.69" y="200.53" width="11.68" height="12.81" fill="#0000db"/><rect x="347.32" y="200.53" width="11.68" height="12.81" fill="#0000db"/><rect x="358.96" y="200.53" width="11.68" height="12.81" fill="#990000"/><rect x="370.59" y="200.53" width="11.68" height="12.81" fill="#ff0000"/><rect x="382.23" y="200.53" width="11.68" height="12.81" fill="#0000ff"/><rect x="417.13" y="200.53" width="11.68" height="12.81" fill="#ff0000"/>
<rect x="103" y="213.29" width="11.68" height="12.81" fill="#0000ff"/><rect x="114.63" y="213.29" width="11.68" height="12.81" fill="#000094"/><rect x="126.27" y="213.29" width="11.68" height="12.81" fill="#e50000"/><rect x="149.54" y="213.29" width="11.68" height="12.81" fill="#e50000"/><rect x="161.17" y="213.29" width="11.68" height="12.81" fill="#e50000"/><rect x="172.81" y="213.29" width="11.68" height="12.81" fill="#000094"/><rect x="184.44" y="213.29" width="11.68" height="12.81" fill="#cc0000"/><rect x="196.07" y="213.29" width="11.68" height="12.81" fill="#000094"/><rect x="207.71" y="213.29" width="11.68" height="12.81" fill="#f20000"/><rect x="219.34" y="213.29" width="11.68" height="12.81" fill="#e50000"/><rect x="254.25" y="213.29" width="11.68" height="12.81" fill="#000094"/><rect x="265.88" y="213.29" width="11.68" height="12.81" fill="#000094"/><rect x="335.69" y="213.29" width="11.68" height="12.81" fill="#0000db"/><rect x="358.96" y="213.29" width="11.68" height="12.81" fill="#e50000"/><rect x="393.86" y="213.29" width="11.68" height="12.81" fill="#0000db"/><rect x="405.49" y="213.29" width="11.68" height="12.81" fill="#e50000"/><rect x="428.76" y="213.29" width="11.68" height="12.81" fill="#ff0000"/><rect x="440.4" y="213.29" width="11.68" height="12.81" fill="#cc0000"/><rect x="463.67" y="213.29" width="11.68" height="12.81" fill="#0000ff"/>
<rect x="103" y="226.05" width="11.68" height="12.81" fill="#0000ff"/><rect x="114.63" y="226.05" width="11.68" height="12.81" fill="#000094"/><rect x="126.27" y="226.05" width="11.68" height="12.81" fill="#cc0000"/><rect x="149.54" y="226.05" width="11.68" height="12.81" fill="#e50000"/><rect x="161.17" y="226.05" width="11.68" height="12.81" fill="#e50000"/><rect x="172.81" y="226.05" width="11.68" height="12.81" fill="#000094"/><rect x="184.44" y="226.05" width="11.68" height="12.81" fill="#cc0000"/><rect x="196.07" y="226.05" width="11.68" height="12.81" fill="#0000b8"/><rect x="207.71" y="226.05" width="11.68" height="12.81" fill="#f20000"/><rect x="219.34" y="226.05" width="11.68" height="12.81" fill="#e50000"/><rect x="254.25" y="226.05" width="11.68" height="12.81" fill="#000094"/><rect x="265.88" y="226.05" width="11.68" height="12.81" fill="#000094"/><rect x="335.69" y="226.05" width="11.68" height="12.81" fill="#0000db"/><rect x="358.96" y="226.05" width="11.68" height="12.81" fill="#e50000"/><rect x="393.86" y="226.05" width="11.68" height="12.81" fill="#0000db"/><rect x="405.49" y="226.05" width="11.68" height="12.81" fill="#e50000"/><rect x="428.76" y="226.05" width="11.68" height="12.81" fill="#ff0000"/><rect x="440.4" y="226.05" width="11.68" height="12.81" fill="#cc0000"/><rect x="463.67" y="226.05" width="11.68" height="12.81" fill="#0000ff"/>
<rect x="103" y="238.81" width="11.68" height="12.81" fill="#0000ff"/><rect x="114.63" y="238.81" width="11.68" height="12.81" fill="#000094"/><rect x="126.27" y="238.81" width="11.68" height="12.81" fill="#cc0000"/><rect x="149.54" y="238.81" width="11.68" height="12.81" fill="#e50000"/><rect x="161.17" y="238.81" width="11.68" height="12.81" fill="#e50000"/><rect x="172.81" y="238.81" width="11.68" height="12.81" fill="#000094"/><rect x="184.44" y="238.81" width="11.68" height="12.81" fill="#f20000"/><rect x="196.07" y="238.81" width="11.68" height="12.81" fill="#000094"/><rect x="207.71" y="238.81" width="11.68" height="12.81" fill="#f20000"/><rect x="219.34" y="238.81" width="11.68" height="12.81" fill="#e50000"/><rect x="254.25" y="238.81" width="11.68" height="12.81" fill="#000094"/><rect x="265.88" y="238.81" width="11.68" height="12.81" fill="#000094"/><rect x="335.69" y="238.81" width="11.68" height="12.81" fill="#0000db"/><rect x="358.96" y="238.81" width="11.68" height="12.81" fill="#e50000"/><rect x="393.86" y="238.81" width="11.68" height="12.81" fill="#0000db"/><rect x="405.49" y="238.81" width="11.68" height="12.81" fill="#e50000"/><rect x="428.76" y="238.81" width="11.68" height="12.81" fill="#ff0000"/><rect x="440.4" y="238.81" width="11.68" height="12.81" fill="#cc0000"/><rect x="463.67" y="238.81" width="11.68" height="12.81" fill="#0000ff"/>
<rect x="103" y="251.57" width="11.68" height="12.81" fill="#000070"/><rect x="126.27" y="251.57" width="11.68" height="12.81" fill="#e50000"/><rect x="137.9" y="251.57" width="11.68" height="12.81" fill="#000070"/><rect x="161.17" y="251.57" width="11.68" height="12.81" fill="#0000b8"/><rect x="184.44" y="251.57" width="11.68" height="12.81" fill="#0000b8"/><rect x="207.71" y="251.57" width="11.68" height="12.81" fill="#cc0000"/><rect x="219.34" y="251.57" width="11.68" height="12.81" fill="#990000"/><rect x="230.98" y="251.57" width="11.68" height="12.81" fill="#0000ff"/><rect x="300.78" y="251.57" width="11.68" height="12.81" fill="#cc0000"/><rect x="324.05" y="251.57" width="11.68" height="12.81" fill="#cc0000"/><rect x="335.69" y="251.57" width="11.68" height="12.81" fill="#00004c"/><rect x="370.59" y="251.57" width="11.68" height="12.81" fill="#990000"/><rect x="393.86" y="251.57" width="11.68" height="12.81" fill="#0000b8"/><rect x="405.49" y="251.57" width="11.68" height="12.81" fill="#000094"/><rect x="417.13" y="251.57" width="11.68" height="12.81" fill="#cc0000"/><rect x="428.76" y="251.57" width="11.68" height="12.81" fill="#0000db"/><rect x="452.03" y="251.57" width="11.68" height="12.81" fill="#cc0000"/>
<rect x="103" y="264.34" width="11.68" height="12.81" fill="#0000ff"/><rect x="114.63" y="264.34" width="11.68" height="12.81" fill="#000094"/><rect x="126.27" y="264.34" width="11.68" height="12.81" fill="#cc0000"/><rect x="149.54" y="264.34" width="11.68" height="12.81" fill="#e50000"/><rect x="172.81" y="264.34" width="11.68" height="12.81" fill="#0000b8"/><rect x="219.34" y="264.34" width="11.68" height="12.81" fill="#ff0000"/><rect x="254.25" y="264.34" width="11.68" height="12.81" fill="#0000db"/><rect x="277.52" y="264.34" width="11.68" height="12.81" fill="#000094"/><rect x="335.69" y="264.34" width="11.68" height="12.81" fill="#0000db"/><rect x="347.32" y="264.34" width="11.68" height="12.81" fill="#0000db"/><rect x="358.96" y="264.34" width="11.68" height="12.81" fill="#ff0000"/><rect x="382.23" y="264.34" width="11.68" height="12.81" fill="#0000db"/><rect x="405.49" y="264.34" width="11.68" height="12.81" fill="#cc0000"/><rect x="463.67" y="264.34" width="11.68" height="12.81" fill="#0000ff"/>
<rect x="114.63" y="277.1" width="11.68" height="12.81" fill="#000094"/><rect x="137.9" y="277.1" width="11.68" height="12.81" fill="#000094"/><rect x="149.54" y="277.1" width="11.68" height="12.81" fill="#ff0000"/><rect x="161.17" y="277.1" width="11.68" height="12.81" fill="#0000db"/><rect x="172.81" y="277.1" width="11.68" height="12.81" fill="#000094"/><rect x="184.44" y="277.1" width="11.68" height="12.81" fill="#0000db"/><rect x="207.71" y="277.1" width="11.68" height="12.81" fill="#0000db"/><rect x="219.34" y="277.1" width="11.68" height="12.81" fill="#0000b8"/><rect x="230.98" y="277.1" width="11.68" height="12.81" fill="#0000ff"/><rect x="254.25" y="277.1" width="11.68" height="12.81" fill="#000070"/><rect x="347.32" y="277.1" width="11.68" height="12.81" fill="#0000ff"/><rect x="370.59" y="277.1" width="11.68" height="12.81" fill="#e50000"/><rect x="417.13" y="277.1" width="11.68" height="12.81" fill="#cc0000"/><rect x="463.67" y="277.1" width="11.68" height="12.81" fill="#ff0000"/>
<rect x="114.63" y="289.86" width="11.68" height="12.81" fill="#000094"/><rect x="126.27" y="289.86" width="11.68" height="12.81" fill="#e50000"/><rect x="149.54" y="289.86" width="11.68" height="12.81" fill="#e50000"/><rect x="172.81" y="289.86" width="11.68" height="12.81" fill="#000094"/><rect x="219.34" y="289.86" width="11.68" height="12.81" fill="#cc0000"/><rect x="289.15" y="289.86" width="11.68" height="12.81" fill="#0000ff"/><rect x="300.78" y="289.86" width="11.68" height="12.81" fill="#0000db"/><rect x="335.69" y="289.86" width="11.68" height="12.81" fill="#000094"/><rect x="370.59" y="289.86" width="11.68" height="12.81" fill="#990000"/><rect x="382.23" y="289.86" width="11.68" height="12.81" fill="#000094"/><rect x="405.49" y="289.86" width="11.68" height="12.81" fill="#e50000"/><rect x="417.13" y="289.86" width="11.68" height="12.81" fill="#ff0000"/><rect x="428.76" y="289.86" width="11.68" height="12.81" fill="#e50000"/><rect x="463.67" y="289.86" width="11.68" height="12.81" fill="#0000b8"/>
<rect x="103" y="302.62" width="11.68" height="12.81" fill="#0000db"/><rect x="114.63" y="302.62" width="11.68" height="12.81" fill="#000094"/><rect x="126.27" y="302.62" width="11.68" height="12.81" fill="#cc0000"/><rect x="137.9" y="302.62" width="11.68" height="12.81" fill="#3333ff"/><rect x="149.54" y="302.62" width="11.68" height="12.81" fill="#cc0000"/><rect x="172.81" y="302.62" width="11.68" height="12.81" fill="#000094"/><rect x="196.07" y="302.62" width="11.68" height="12.81" fill="#0000ff"/><rect x="219.34" y="302.62" width="11.68" height="12.81" fill="#cc0000"/><rect x="335.69" y="302.62" width="11.68" height="12.81" fill="#000094"/><rect x="382.23" y="302.62" width="11.68" height="12.81" fill="#0000b8"/><rect x="417.13" y="302.62" width="11.68" height="12.81" fill="#b20000"/><rect x="440.4" y="302.62" width="11.68" height="12.81" fill="#e50000"/><rect x="463.67" y="302.62" width="11.68" height="12.81" fill="#000094"/>
<rect x="103" y="315.39" width="11.68" height="12.81" fill="#000094"/><rect x="114.63" y="315.39" width="11.68" height="12.81" fill="#0000b8"/><rect x="126.27" y="315.39" width="11.68" height="12.81" fill="#cc0000"/><rect x="149.54" y="315.39" width="11.68" height="12.81" fill="#b20000"/><rect x="172.81" y="315.39" width="11.68" height="12.81" fill="#000094"/><rect x="219.34" y="315.39" width="11.68" height="12.81" fill="#cc0000"/><rect x="254.25" y="315.39" width="11.68" height="12.81" fill="#0000db"/><rect x="335.69" y="315.39" width="11.68" height="12.81" fill="#000094"/><rect x="370.59" y="315.39" width="11.68" height="12.81" fill="#ff0000"/><rect x="382.23" y="315.39" width="11.68" height="12.81" fill="#0000ff"/><rect x="463.67" y="315.39" width="11.68" height="12.81" fill="#0000b8"/>
<rect x="114.63" y="328.15" width="11.68" height="12.81" fill="#0000b8"/><rect x="149.54" y="328.15" width="11.68" height="12.81" fill="#ff0000"/><rect x="172.81" y="328.15" width="11.68" height="12.81" fill="#000094"/><rect x="242.61" y="328.15" width="11.68" height="12.81" fill="#0000db"/><rect x="254.25" y="328.15" width="11.68" height="12.81" fill="#0000db"/><rect x="277.52" y="328.15" width="11.68" height="12.81" fill="#0000ff"/><rect x="335.69" y="328.15" width="11.68" height="12.81" fill="#0000ff"/><rect x="370.59" y="328.15" width="11.68" height="12.81" fill="#e50000"/><rect x="405.49" y="328.15" width="11.68" height="12.81" fill="#ff0000"/><rect x="417.13" y="328.15" width="11.68" height="12.81" fill="#b20000"/><rect x="440.4" y="328.15" width="11.68" height="12.81" fill="#ff0000"/>
<rect x="103" y="340.91" width="11.68" height="12.81" fill="#000094"/><rect x="114.63" y="340.91" width="11.68" height="12.81" fill="#0000db"/><rect x="137.9" y="340.91" width="11.68" height="12.81" fill="#000070"/><rect x="161.17" y="340.91" width="11.68" height="12.81" fill="#0000db"/><rect x="172.81" y="340.91" width="11.68" height="12.81" fill="#000094"/><rect x="184.44" y="340.91" width="11.68" height="12.81" fill="#0000db"/><rect x="242.61" y="340.91" width="11.68" height="12.81" fill="#000094"/><rect x="300.78" y="340.91" width="11.68" height="12.81" fill="#cc0000"/><rect x="324.05" y="340.91" width="11.68" height="12.81" fill="#e50000"/><rect x="358.96" y="340.91" width="11.68" height="12.81" fill="#b20000"/><rect x="452.03" y="340.91" width="11.68" height="12.81" fill="#990000"/>
<rect x="103" y="353.68" width="11.68" height="12.81" fill="#0000db"/><rect x="114.63" y="353.68" width="11.68" height="12.81" fill="#0000b8"/><rect x="161.17" y="353.68" width="11.68" height="12.81" fill="#0000db"/><rect x="184.44" y="353.68" width="11.68" height="12.81" fill="#0000db"/><rect x="196.07" y="353.68" width="11.68" height="12.81" fill="#0000db"/><rect x="254.25" y="353.68" width="11.68" height="12.81" fill="#0000b8"/><rect x="277.52" y="353.68" width="11.68" height="12.81" fill="#000070"/><rect x="335.69" y="353.68" width="11.68" height="12.81" fill="#0000b8"/><rect x="358.96" y="353.68" width="11.68" height="12.81" fill="#b20000"/><rect x="393.86" y="353.68" width="11.68" height="12.81" fill="#0000ff"/>
<rect x="103" y="366.44" width="11.68" height="12.81" fill="#0000db"/><rect x="114.63" y="366.44" width="11.68" height="12.81" fill="#0000b8"/><rect x="161.17" y="366.44" width="11.68" height="12.81" fill="#0000db"/><rect x="184.44" y="366.44" width="11.68" height="12.81" fill="#0000db"/><rect x="196.07" y="366.44" width="11.68" height="12.81" fill="#0000db"/><rect x="254.25" y="366.44" width="11.68" height="12.81" fill="#0000b8"/><rect x="277.52" y="366.44" width="11.68" height="12.81" fill="#000070"/><rect x="335.69" y="366.44" width="11.68" height="12.81" fill="#0000b8"/><rect x="358.96" y="366.44" width="11.68" height="12.81" fill="#b20000"/><rect x="393.86" y="366.44" width="11.68" height="12.81" fill="#0000ff"/>
<rect x="137.9" y="379.2" width="11.68" height="12.81" fill="#000094"/><rect x="230.98" y="379.2" width="11.68" height="12.81" fill="#0000db"/><rect x="254.25" y="379.2" width="11.68" height="12.81" fill="#000094"/><rect x="289.15" y="379.2" width="11.68" height="12.81" fill="#00004c"/><rect x="370.59" y="379.2" width="11.68" height="12.81" fill="#ff0000"/><rect x="405.49" y="379.2" width="11.68" height="12.81" fill="#0000db"/><rect x="417.13" y="379.2" width="11.68" height="12.81" fill="#cc0000"/><rect x="440.4" y="379.2" width="11.68" height="12.81" fill="#ff0000"/><rect x="463.67" y="379.2" width="11.68" height="12.81" fill="#cc0000"/>
<rect x="114.63" y="391.96" width="11.68" height="12.81" fill="#0000db"/><rect x="126.27" y="391.96" width="11.68" height="12.81" fill="#ff0000"/><rect x="149.54" y="391.96" width="11.68" height="12.81" fill="#e50000"/><rect x="172.81" y="391.96" width="11.68" height="12.81" fill="#000094"/><rect x="230.98" y="391.96" width="11.68" height="12.81" fill="#0000b8"/><rect x="254.25" y="391.96" width="11.68" height="12.81" fill="#000070"/><rect x="335.69" y="391.96" width="11.68" height="12.81" fill="#0000b8"/><rect x="452.03" y="391.96" width="11.68" height="12.81" fill="#000094"/>
<rect x="114.63" y="404.73" width="11.68" height="12.81" fill="#000094"/><rect x="149.54" y="404.73" width="11.68" height="12.81" fill="#ff0000"/><rect x="161.17" y="404.73" width="11.68" height="12.81" fill="#0000ff"/><rect x="172.81" y="404.73" width="11.68" height="12.81" fill="#000094"/><rect x="254.25" y="404.73" width="11.68" height="12.81" fill="#00004c"/><rect x="277.52" y="404.73" width="11.68" height="12.81" fill="#0000db"/><rect x="335.69" y="404.73" width="11.68" height="12.81" fill="#0000b8"/><rect x="393.86" y="404.73" width="11.68" height="12.81" fill="#0000ff"/>
<rect x="103" y="417.49" width="11.68" height="12.81" fill="#0000b8"/><rect x="114.63" y="417.49" width="11.68" height="12.81" fill="#000094"/><rect x="137.9" y="417.49" width="11.68" height="12.81" fill="#000070"/><rect x="172.81" y="417.49" width="11.68" height="12.81" fill="#00004c"/><rect x="230.98" y="417.49" width="11.68" height="12.81" fill="#ff0000"/><rect x="405.49" y="417.49" width="11.68" height="12.81" fill="#0000b8"/><rect x="428.76" y="417.49" width="11.68" height="12.81" fill="#0000ff"/><rect x="452.03" y="417.49" width="11.68" height="12.81" fill="#cc0000"/>
<rect x="126.27" y="430.25" width="11.68" height="12.81" fill="#800000"/><rect x="161.17" y="430.25" width="11.68" height="12.81" fill="#0000db"/><rect x="184.44" y="430.25" width="11.68" height="12.81" fill="#0000db"/><rect x="207.71" y="430.25" width="11.68" height="12.81" fill="#cc0000"/><rect x="219.34" y="430.25" width="11.68" height="12.81" fill="#b20000"/><rect x="254.25" y="430.25" width="11.68" height="12.81" fill="#0000b8"/><rect x="358.96" y="430.25" width="11.68" height="12.81" fill="#990000"/>
<rect x="103" y="443.01" width="11.68" height="12.81" fill="#0000db"/><rect x="242.61" y="443.01" width="11.68" height="12.81" fill="#0000db"/><rect x="370.59" y="443.01" width="11.68" height="12.81" fill="#ff0000"/><rect x="405.49" y="443.01" width="11.68" height="12.81" fill="#0000b8"/><rect x="417.13" y="443.01" width="11.68" height="12.81" fill="#ff0000"/><rect x="440.4" y="443.01" width="11.68" height="12.81" fill="#0000db"/>
<rect x="196.07" y="455.78" width="11.68" height="12.81" fill="#0000db"/><rect x="265.88" y="455.78" width="11.68" height="12.81" fill="#0000db"/><rect x="405.49" y="455.78" width="11.68" height="12.81" fill="#e50000"/><rect x="428.76" y="455.78" width="11.68" height="12.81" fill="#ff0000"/><rect x="440.4" y="455.78" width="11.68" height="12.81" fill="#ff0000"/>
<rect x="172.81" y="468.54" width="11.68" height="12.81" fill="#0000ff"/><rect x="254.25" y="468.54" width="11.68" height="12.81" fill="#0000b8"/>
<path d="M103 175V481.3M114.63 175V481.3M126.27 175V481.3M137.9 175V481.3M149.54 175V481.3M161.17 175V481.3M172.81 175V481.3M184.44 175V481.3M196.07 175V481.3M207.71 175V481.3M219.34 175V481.3M230.98 175V481.3M242.61 175V481.3M254.25 175V481.3M265.88 175V481.3M277.52 175V481.3M289.15 175V481.3M300.78 175V481.3M312.42 175V481.3M324.05 175V481.3M335.69 175V481.3M347.32 175V481.3M358.96 175V481.3M370.59 175V481.3M382.23 175V481.3M393.86 175V481.3M405.49 175V481.3M417.13 175V481.3M428.76 175V481.3M440.4 175V481.3M452.03 175V481.3M463.67 175V481.3M475.3 175V481.3M103 175H475.3M103 187.76H475.3M103 200.53H475.3M103 213.29H475.3M103 226.05H475.3M103 238.81H475.3M103 251.57H475.3M103 264.34H475.3M103 277.1H475.3M103 289.86H475.3M103 302.62H475.3M103 315.39H475.3M103 328.15H475.3M103 340.91H475.3M103 353.68H475.3M103 366.44H475.3M103 379.2H475.3M103 391.96H475.3M103 404.73H475.3M103 417.49H475.3M103 430.25H475.3M103 443.01H475.3M103 455.78H475.3M103 468.54H475.3M103 481.3H475.3" stroke="#000" stroke-opacity="0.2" stroke-width="0.7" fill="none"/>
<g class="a w"><text x="108.82" y="184.05">18</text><text x="143.72" y="184.05">19</text><text x="166.99" y="184.05">18</text><text x="190.26" y="184.05">18</text><text x="213.53" y="184.05">19</text><text x="225.16" y="184.05">19</text><text x="236.8" y="184.05">19</text><text x="306.6" y="184.05">18</text><text x="329.87" y="184.05">18</text><text x="341.5" y="184.05">18</text><text x="364.77" y="184.05">18</text><text x="388.04" y="184.05">18</text><text x="399.68" y="184.05">18</text><text x="446.21" y="184.05">19</text></g><g class="a k"><text x="120.45" y="184.05">18</text><text x="132.09" y="184.05">18</text><text x="155.35" y="184.05">18</text><text x="178.62" y="184.05">19</text><text x="201.89" y="184.05">18</text><text x="248.43" y="184.05">18</text><text x="260.06" y="184.05">19</text><text x="271.7" y="184.05">18</text><text x="283.33" y="184.05">18</text><text x="294.97" y="184.05">18</text><text x="318.24" y="184.05">18</text><text x="353.14" y="184.05">18</text><text x="376.41" y="184.05">18</text><text x="411.31" y="184.05">19</text><text x="422.95" y="184.05">18</text><text x="434.58" y="184.05">18</text><text x="457.85" y="184.05">18</text><text x="469.48" y="184.05">19</text></g>
<g class="a w"><text x="108.82" y="196.81">19</text><text x="132.09" y="196.81">18</text><text x="143.72" y="196.81">19</text><text x="166.99" y="196.81">18</text><text x="190.26" y="196.81">18</text><text x="213.53" y="196.81">19</text><text x="225.16" y="196.81">19</text><text x="236.8" y="196.81">19</text><text x="399.68" y="196.81">19</text><text x="411.31" y="196.81">19</text><text x="434.58" y="196.81">18</text><text x="446.21" y="196.81">19</text><text x="457.85" y="196.81">19</text></g><g class="a k"><text x="120.45" y="196.81">18</text><text x="155.35" y="196.81">19</text><text x="178.62" y="196.81">19</text><text x="201.89" y="196.81">18</text><text x="248.43" y="196.81">18</text><text x="260.06" y="196.81">19</text><text x="271.7" y="196.81">18</text><text x="283.33" y="196.81">18</text><text x="294.97" y="196.81">18</text><text x="306.6" y="196.81">18</text><text x="318.24" y="196.81">18</text><text x="329.87" y="196.81">18</text><text x="341.5" y="196.81">19</text><text x="353.14" y="196.81">18</text><text x="364.77" y="196.81">18</text><text x="376.41" y="196.81">18</text><text x="388.04" y="196.81">18</text><text x="422.95" y="196.81">18</text><text x="469.48" y="196.81">19</text></g>
<g class="a w"><text x="108.82" y="209.57">19</text><text x="120.45" y="209.57">18</text><text x="132.09" y="209.57">18</text><text x="143.72" y="209.57">19</text><text x="155.35" y="209.57">19</text><text x="166.99" y="209.57">18</text><text x="178.62" y="209.57">19</text><text x="190.26" y="209.57">18</text><text x="213.53" y="209.57">19</text><text x="225.16" y="209.57">19</text><text x="248.43" y="209.57">18</text><text x="283.33" y="209.57">18</text><text x="306.6" y="209.57">18</text><text x="318.24" y="209.57">18</text><text x="329.87" y="209.57">18</text><text x="341.5" y="209.57">19</text><text x="353.14" y="209.57">18</text><text x="364.77" y="209.57">18</text><text x="376.41" y="209.57">18</text><text x="388.04" y="209.57">18</text><text x="422.95" y="209.57">18</text></g><g class="a k"><text x="201.89" y="209.57">18</text><text x="236.8" y="209.57">19</text><text x="260.06" y="209.57">19</text><text x="271.7" y="209.57">18</text><text x="294.97" y="209.57">18</text><text x="399.68" y="209.57">19</text><text x="411.31" y="209.57">19</text><text x="434.58" y="209.57">18</text><text x="446.21" y="209.57">19</text><text x="457.85" y="209.57">19</text><text x="469.48" y="209.57">19</text></g>
<g class="a w"><text x="108.82" y="222.33">19</text><text x="120.45" y="222.33">18</text><text x="132.09" y="222.33">18</text><text x="155.35" y="222.33">19</text><text x="166.99" y="222.33">18</text><text x="178.62" y="222.33">19</text><text x="190.26" y="222.33">18</text><text x="201.89" y="222.33">18</text><text x="213.53" y="222.33">19</text><text x="225.16" y="222.33">19</text><text x="260.06" y="222.33">19</text><text x="271.7" y="222.33">18</text><text x="341.5" y="222.33">19</text><text x="364.77" y="222.33">18</text><text x="399.68" y="222.33">19</text><text x="411.31" y="222.33">19</text><text x="434.58" y="222.33">18</text><text x="446.21" y="222.33">19</text><text x="469.48" y="222.33">19</text></g><g class="a k"><text x="143.72" y="222.33">19</text><text x="236.8" y="222.33">19</text><text x="248.43" y="222.33">18</text><text x="283.33" y="222.33">18</text><text x="294.97" y="222.33">18</text><text x="306.6" y="222.33">18</text><text x="318.24" y="222.33">18</text><text x="329.87" y="222.33">18</text><text x="353.14" y="222.33">18</text><text x="376.41" y="222.33">18</text><text x="388.04" y="222.33">18</text><text x="422.95" y="222.33">18</text><text x="457.85" y="222.33">19</text></g>
<g class="a w"><text x="108.82" y="235.1">17</text><text x="120.45" y="235.1">13</text><text x="132.09" y="235.1">13</text><text x="155.35" y="235.1">17</text><text x="166.99" y="235.1">13</text><text x="178.62" y="235.1">17</text><text x="190.26" y="235.1">13</text><text x="201.89" y="235.1">13</text><text x="213.53" y="235.1">14</text><text x="225.16" y="235.1">17</text><text x="260.06" y="235.1">14</text><text x="271.7" y="235.1">13</text><text x="341.5" y="235.1">17</text><text x="364.77" y="235.1">13</text><text x="399.68" y="235.1">14</text><text x="411.31" y="235.1">17</text><text x="434.58" y="235.1">13</text><text x="446.21" y="235.1">14</text><text x="469.48" y="235.1">17</text></g><g class="a k"><text x="143.72" y="235.1">17</text><text x="236.8" y="235.1">17</text><text x="248.43" y="235.1">13</text><text x="283.33" y="235.1">13</text><text x="294.97" y="235.1">13</text><text x="306.6" y="235.1">13</text><text x="318.24" y="235.1">13</text><text x="329.87" y="235.1">13</text><text x="353.14" y="235.1">13</text><text x="376.41" y="235.1">13</text><text x="388.04" y="235.1">13</text><text x="422.95" y="235.1">13</text><text x="457.85" y="235.1">19</text></g>
<g class="a w"><text x="108.82" y="247.86">19</text><text x="120.45" y="247.86">18</text><text x="132.09" y="247.86">18</text><text x="155.35" y="247.86">19</text><text x="166.99" y="247.86">18</text><text x="178.62" y="247.86">19</text><text x="190.26" y="247.86">18</text><text x="201.89" y="247.86">18</text><text x="213.53" y="247.86">19</text><text x="225.16" y="247.86">19</text><text x="260.06" y="247.86">19</text><text x="271.7" y="247.86">18</text><text x="341.5" y="247.86">19</text><text x="364.77" y="247.86">18</text><text x="399.68" y="247.86">19</text><text x="411.31" y="247.86">19</text><text x="434.58" y="247.86">18</text><text x="446.21" y="247.86">19</text><text x="469.48" y="247.86">19</text></g><g class="a k"><text x="143.72" y="247.86">19</text><text x="236.8" y="247.86">19</text><text x="248.43" y="247.86">18</text><text x="283.33" y="247.86">18</text><text x="294.97" y="247.86">18</text><text x="306.6" y="247.86">18</text><text x="318.24" y="247.86">18</text><text x="329.87" y="247.86">18</text><text x="353.14" y="247.86">18</text><text x="376.41" y="247.86">18</text><text x="388.04" y="247.86">18</text><text x="422.95" y="247.86">18</text><text x="457.85" y="247.86">19</text></g>
<g class="a w"><text x="108.82" y="260.62">16</text><text x="132.09" y="260.62">15</text><text x="143.72" y="260.62">16</text><text x="166.99" y="260.62">15</text><text x="190.26" y="260.62">15</text><text x="213.53" y="260.62">16</text><text x="225.16" y="260.62">16</text><text x="236.8" y="260.62">16</text><text x="306.6" y="260.62">15</text><text x="329.87" y="260.62">15</text><text x="341.5" y="260.62">16</text><text x="376.41" y="260.62">15</text><text x="399.68" y="260.62">16</text><text x="411.31" y="260.62">16</text><text x="422.95" y="260.62">15</text><text x="434.58" y="260.62">15</text><text x="457.85" y="260.62">16</text></g><g class="a k"><text x="120.45" y="260.62">15</text><text x="155.35" y="260.62">16</text><text x="178.62" y="260.62">16</text><text x="201.89" y="260.62">15</text><text x="248.43" y="260.62">15</text><text x="260.06" y="260.62">16</text><text x="271.7" y="260.62">15</text><text x="283.33" y="260.62">15</text><text x="294.97" y="260.62">15</text><text x="318.24" y="260.62">15</text><text x="353.14" y="260.62">15</text><text x="364.77" y="260.62">15</text><text x="388.04" y="260.62">15</text><text x="446.21" y="260.62">16</text><text x="469.48" y="260.62">16</text></g>
<g class="a w"><text x="108.82" y="273.38">14</text><text x="120.45" y="273.38">14</text><text x="132.09" y="273.38">14</text><text x="155.35" y="273.38">14</text><text x="178.62" y="273.38">14</text><text x="225.16" y="273.38">14</text><text x="260.06" y="273.38">14</text><text x="283.33" y="273.38">14</text><text x="341.5" y="273.38">14</text><text x="353.14" y="273.38">14</text><text x="364.77" y="273.38">14</text><text x="388.04" y="273.38">14</text><text x="411.31" y="273.38">14</text><text x="469.48" y="273.38">14</text></g><g class="a k"><text x="143.72" y="273.38">14</text><text x="166.99" y="273.38">14</text><text x="190.26" y="273.38">14</text><text x="201.89" y="273.38">14</text><text x="213.53" y="273.38">14</text><text x="236.8" y="273.38">14</text><text x="248.43" y="273.38">14</text><text x="271.7" y="273.38">14</text><text x="294.97" y="273.38">14</text><text x="306.6" y="273.38">14</text><text x="318.24" y="273.38">14</text><text x="329.87" y="273.38">14</text><text x="376.41" y="273.38">14</text><text x="399.68" y="273.38">14</text><text x="422.95" y="273.38">14</text><text x="434.58" y="273.38">14</text><text x="446.21" y="273.38">14</text><text x="457.85" y="273.38">14</text></g>
<g class="a w"><text x="120.45" y="286.15">19</text><text x="143.72" y="286.15">17</text><text x="155.35" y="286.15">17</text><text x="166.99" y="286.15">19</text><text x="178.62" y="286.15">19</text><text x="190.26" y="286.15">19</text><text x="213.53" y="286.15">19</text><text x="225.16" y="286.15">19</text><text x="236.8" y="286.15">17</text><text x="260.06" y="286.15">19</text><text x="353.14" y="286.15">19</text><text x="376.41" y="286.15">17</text><text x="422.95" y="286.15">17</text><text x="469.48" y="286.15">19</text></g><g class="a k"><text x="108.82" y="286.15">17</text><text x="132.09" y="286.15">19</text><text x="201.89" y="286.15">19</text><text x="248.43" y="286.15">17</text><text x="271.7" y="286.15">19</text><text x="283.33" y="286.15">17</text><text x="294.97" y="286.15">17</text><text x="306.6" y="286.15">17</text><text x="318.24" y="286.15">17</text><text x="329.87" y="286.15">17</text><text x="341.5" y="286.15">17</text><text x="364.77" y="286.15">19</text><text x="388.04" y="286.15">17</text><text x="399.68" y="286.15">17</text><text x="411.31" y="286.15">17</text><text x="434.58" y="286.15">17</text><text x="446.21" y="286.15">17</text><text x="457.85" y="286.15">17</text></g>
<g class="a w"><text x="120.45" y="298.91">16</text><text x="132.09" y="298.91">16</text><text x="155.35" y="298.91">16</text><text x="178.62" y="298.91">16</text><text x="225.16" y="298.91">16</text><text x="294.97" y="298.91">16</text><text x="306.6" y="298.91">16</text><text x="341.5" y="298.91">16</text><text x="376.41" y="298.91">16</text><text x="388.04" y="298.91">16</text><text x="411.31" y="298.91">16</text><text x="422.95" y="298.91">16</text><text x="434.58" y="298.91">16</text><text x="469.48" y="298.91">16</text></g><g class="a k"><text x="108.82" y="298.91">16</text><text x="143.72" y="298.91">16</text><text x="166.99" y="298.91">16</text><text x="190.26" y="298.91">16</text><text x="201.89" y="298.91">16</text><text x="213.53" y="298.91">16</text><text x="236.8" y="298.91">16</text><text x="248.43" y="298.91">16</text><text x="260.06" y="298.91">16</text><text x="271.7" y="298.91">16</text><text x="283.33" y="298.91">16</text><text x="318.24" y="298.91">16</text><text x="329.87" y="298.91">16</text><text x="353.14" y="298.91">16</text><text x="364.77" y="298.91">16</text><text x="399.68" y="298.91">16</text><text x="446.21" y="298.91">16</text><text x="457.85" y="298.91">16</text></g>
<g class="a w"><text x="108.82" y="311.67">17</text><text x="120.45" y="311.67">18</text><text x="132.09" y="311.67">18</text><text x="143.72" y="311.67">19</text><text x="155.35" y="311.67">17</text><text x="178.62" y="311.67">19</text><text x="201.89" y="311.67">18</text><text x="225.16" y="311.67">19</text><text x="341.5" y="311.67">17</text><text x="388.04" y="311.67">17</text><text x="422.95" y="311.67">18</text><text x="446.21" y="311.67">19</text><text x="469.48" y="311.67">19</text></g><g class="a k"><text x="166.99" y="311.67">18</text><text x="190.26" y="311.67">18</text><text x="213.53" y="311.67">19</text><text x="236.8" y="311.67">19</text><text x="248.43" y="311.67">18</text><text x="260.06" y="311.67">19</text><text x="271.7" y="311.67">18</text><text x="283.33" y="311.67">17</text><text x="294.97" y="311.67">17</text><text x="306.6" y="311.67">17</text><text x="318.24" y="311.67">18</text><text x="329.87" y="311.67">17</text><text x="353.14" y="311.67">18</text><text x="364.77" y="311.67">18</text><text x="376.41" y="311.67">18</text><text x="399.68" y="311.67">17</text><text x="411.31" y="311.67">19</text><text x="434.58" y="311.67">18</text><text x="457.85" y="311.67">17</text></g>
<g class="a w"><text x="108.82" y="324.43">19</text><text x="120.45" y="324.43">18</text><text x="132.09" y="324.43">18</text><text x="155.35" y="324.43">19</text><text x="178.62" y="324.43">19</text><text x="225.16" y="324.43">19</text><text x="260.06" y="324.43">19</text><text x="341.5" y="324.43">19</text><text x="376.41" y="324.43">18</text><text x="388.04" y="324.43">18</text><text x="469.48" y="324.43">19</text></g><g class="a k"><text x="143.72" y="324.43">19</text><text x="166.99" y="324.43">18</text><text x="190.26" y="324.43">18</text><text x="201.89" y="324.43">18</text><text x="213.53" y="324.43">19</text><text x="236.8" y="324.43">19</text><text x="248.43" y="324.43">18</text><text x="271.7" y="324.43">18</text><text x="283.33" y="324.43">18</text><text x="294.97" y="324.43">18</text><text x="306.6" y="324.43">18</text><text x="318.24" y="324.43">18</text><text x="329.87" y="324.43">18</text><text x="353.14" y="324.43">18</text><text x="364.77" y="324.43">18</text><text x="399.68" y="324.43">19</text><text x="411.31" y="324.43">19</text><text x="422.95" y="324.43">18</text><text x="434.58" y="324.43">18</text><text x="446.21" y="324.43">19</text><text x="457.85" y="324.43">19</text></g>
<g class="a w"><text x="120.45" y="337.2">18</text><text x="155.35" y="337.2">19</text><text x="178.62" y="337.2">19</text><text x="248.43" y="337.2">18</text><text x="260.06" y="337.2">19</text><text x="283.33" y="337.2">18</text><text x="341.5" y="337.2">19</text><text x="376.41" y="337.2">18</text><text x="411.31" y="337.2">19</text><text x="422.95" y="337.2">18</text><text x="446.21" y="337.2">19</text></g><g class="a k"><text x="108.82" y="337.2">19</text><text x="132.09" y="337.2">18</text><text x="143.72" y="337.2">19</text><text x="166.99" y="337.2">18</text><text x="190.26" y="337.2">18</text><text x="201.89" y="337.2">18</text><text x="213.53" y="337.2">19</text><text x="225.16" y="337.2">19</text><text x="236.8" y="337.2">19</text><text x="271.7" y="337.2">18</text><text x="294.97" y="337.2">18</text><text x="306.6" y="337.2">18</text><text x="318.24" y="337.2">18</text><text x="329.87" y="337.2">18</text><text x="353.14" y="337.2">18</text><text x="364.77" y="337.2">18</text><text x="388.04" y="337.2">18</text><text x="399.68" y="337.2">19</text><text x="434.58" y="337.2">18</text><text x="457.85" y="337.2">19</text><text x="469.48" y="337.2">19</text></g>
<g class="a w"><text x="108.82" y="349.96">19</text><text x="120.45" y="349.96">14</text><text x="143.72" y="349.96">19</text><text x="166.99" y="349.96">14</text><text x="178.62" y="349.96">19</text><text x="190.26" y="349.96">14</text><text x="248.43" y="349.96">14</text><text x="306.6" y="349.96">14</text><text x="329.87" y="349.96">14</text><text x="364.77" y="349.96">14</text><text x="457.85" y="349.96">19</text></g><g class="a k"><text x="132.09" y="349.96">14</text><text x="155.35" y="349.96">19</text><text x="201.89" y="349.96">14</text><text x="213.53" y="349.96">14</text><text x="225.16" y="349.96">19</text><text x="236.8" y="349.96">19</text><text x="260.06" y="349.96">14</text><text x="271.7" y="349.96">14</text><text x="283.33" y="349.96">14</text><text x="294.97" y="349.96">14</text><text x="318.24" y="349.96">14</text><text x="341.5" y="349.96">19</text><text x="353.14" y="349.96">14</text><text x="376.41" y="349.96">14</text><text x="388.04" y="349.96">14</text><text x="399.68" y="349.96">14</text><text x="411.31" y="349.96">19</text><text x="422.95" y="349.96">14</text><text x="434.58" y="349.96">14</text><text x="446.21" y="349.96">14</text><text x="469.48" y="349.96">19</text></g>
<g class="a w"><text x="108.82" y="362.72">16</text><text x="120.45" y="362.72">13</text><text x="166.99" y="362.72">13</text><text x="190.26" y="362.72">13</text><text x="201.89" y="362.72">13</text><text x="260.06" y="362.72">14</text><text x="283.33" y="362.72">13</text><text x="341.5" y="362.72">16</text><text x="364.77" y="362.72">13</text><text x="399.68" y="362.72">14</text></g><g class="a k"><text x="132.09" y="362.72">13</text><text x="143.72" y="362.72">16</text><text x="155.35" y="362.72">16</text><text x="178.62" y="362.72">16</text><text x="213.53" y="362.72">14</text><text x="225.16" y="362.72">16</text><text x="236.8" y="362.72">16</text><text x="248.43" y="362.72">13</text><text x="271.7" y="362.72">13</text><text x="294.97" y="362.72">13</text><text x="306.6" y="362.72">13</text><text x="318.24" y="362.72">13</text><text x="329.87" y="362.72">13</text><text x="353.14" y="362.72">13</text><text x="376.41" y="362.72">13</text><text x="388.04" y="362.72">13</text><text x="411.31" y="362.72">16</text><text x="422.95" y="362.72">13</text><text x="434.58" y="362.72">13</text><text x="446.21" y="362.72">14</text><text x="457.85" y="362.72">16</text><text x="469.48" y="362.72">16</text></g>
<g class="a w"><text x="108.82" y="375.48">16</text><text x="120.45" y="375.48">13</text><text x="166.99" y="375.48">13</text><text x="190.26" y="375.48">13</text><text x="201.89" y="375.48">13</text><text x="260.06" y="375.48">14</text><text x="283.33" y="375.48">13</text><text x="341.5" y="375.48">16</text><text x="364.77" y="375.48">13</text><text x="399.68" y="375.48">14</text></g><g class="a k"><text x="132.09" y="375.48">13</text><text x="143.72" y="375.48">16</text><text x="155.35" y="375.48">16</text><text x="178.62" y="375.48">16</text><text x="213.53" y="375.48">14</text><text x="225.16" y="375.48">16</text><text x="236.8" y="375.48">16</text><text x="248.43" y="375.48">13</text><text x="271.7" y="375.48">13</text><text x="294.97" y="375.48">13</text><text x="306.6" y="375.48">13</text><text x="318.24" y="375.48">13</text><text x="329.87" y="375.48">13</text><text x="353.14" y="375.48">13</text><text x="376.41" y="375.48">13</text><text x="388.04" y="375.48">13</text><text x="411.31" y="375.48">16</text><text x="422.95" y="375.48">13</text><text x="434.58" y="375.48">13</text><text x="446.21" y="375.48">14</text><text x="457.85" y="375.48">16</text><text x="469.48" y="375.48">16</text></g>
<g class="a w"><text x="143.72" y="388.25">19</text><text x="236.8" y="388.25">19</text><text x="260.06" y="388.25">19</text><text x="294.97" y="388.25">4</text><text x="376.41" y="388.25">18</text><text x="411.31" y="388.25">19</text><text x="422.95" y="388.25">18</text><text x="446.21" y="388.25">19</text><text x="469.48" y="388.25">19</text></g><g class="a k"><text x="108.82" y="388.25">4</text><text x="120.45" y="388.25">18</text><text x="132.09" y="388.25">18</text><text x="155.35" y="388.25">4</text><text x="166.99" y="388.25">18</text><text x="178.62" y="388.25">19</text><text x="190.26" y="388.25">18</text><text x="201.89" y="388.25">18</text><text x="213.53" y="388.25">19</text><text x="225.16" y="388.25">19</text><text x="248.43" y="388.25">18</text><text x="271.7" y="388.25">18</text><text x="283.33" y="388.25">4</text><text x="306.6" y="388.25">4</text><text x="318.24" y="388.25">18</text><text x="329.87" y="388.25">4</text><text x="341.5" y="388.25">4</text><text x="353.14" y="388.25">18</text><text x="364.77" y="388.25">18</text><text x="388.04" y="388.25">4</text><text x="399.68" y="388.25">4</text><text x="434.58" y="388.25">18</text><text x="457.85" y="388.25">4</text></g>
<g class="a w"><text x="120.45" y="401.01">19</text><text x="132.09" y="401.01">19</text><text x="155.35" y="401.01">10</text><text x="178.62" y="401.01">20</text><text x="236.8" y="401.01">20</text><text x="260.06" y="401.01">20</text><text x="341.5" y="401.01">10</text><text x="457.85" y="401.01">10</text></g><g class="a k"><text x="108.82" y="401.01">10</text><text x="143.72" y="401.01">20</text><text x="166.99" y="401.01">19</text><text x="190.26" y="401.01">19</text><text x="201.89" y="401.01">19</text><text x="213.53" y="401.01">20</text><text x="225.16" y="401.01">20</text><text x="248.43" y="401.01">19</text><text x="271.7" y="401.01">19</text><text x="283.33" y="401.01">10</text><text x="294.97" y="401.01">10</text><text x="306.6" y="401.01">10</text><text x="318.24" y="401.01">19</text><text x="329.87" y="401.01">10</text><text x="353.14" y="401.01">19</text><text x="364.77" y="401.01">19</text><text x="376.41" y="401.01">19</text><text x="388.04" y="401.01">10</text><text x="399.68" y="401.01">10</text><text x="411.31" y="401.01">20</text><text x="422.95" y="401.01">19</text><text x="434.58" y="401.01">19</text><text x="446.21" y="401.01">20</text><text x="469.48" y="401.01">20</text></g>
<g class="a w"><text x="120.45" y="413.77">14</text><text x="155.35" y="413.77">16</text><text x="166.99" y="413.77">14</text><text x="178.62" y="413.77">16</text><text x="260.06" y="413.77">15</text><text x="283.33" y="413.77">14</text><text x="341.5" y="413.77">16</text><text x="399.68" y="413.77">15</text></g><g class="a k"><text x="108.82" y="413.77">16</text><text x="132.09" y="413.77">14</text><text x="143.72" y="413.77">16</text><text x="190.26" y="413.77">14</text><text x="201.89" y="413.77">14</text><text x="213.53" y="413.77">15</text><text x="225.16" y="413.77">16</text><text x="236.8" y="413.77">16</text><text x="248.43" y="413.77">14</text><text x="271.7" y="413.77">14</text><text x="294.97" y="413.77">14</text><text x="306.6" y="413.77">14</text><text x="318.24" y="413.77">14</text><text x="329.87" y="413.77">14</text><text x="353.14" y="413.77">14</text><text x="364.77" y="413.77">14</text><text x="376.41" y="413.77">14</text><text x="388.04" y="413.77">14</text><text x="411.31" y="413.77">16</text><text x="422.95" y="413.77">14</text><text x="434.58" y="413.77">14</text><text x="446.21" y="413.77">15</text><text x="457.85" y="413.77">16</text><text x="469.48" y="413.77">16</text></g>
<g class="a w"><text x="108.82" y="426.53">16</text><text x="120.45" y="426.53">14</text><text x="143.72" y="426.53">16</text><text x="178.62" y="426.53">16</text><text x="236.8" y="426.53">16</text><text x="411.31" y="426.53">16</text><text x="434.58" y="426.53">14</text><text x="457.85" y="426.53">16</text></g><g class="a k"><text x="132.09" y="426.53">14</text><text x="155.35" y="426.53">16</text><text x="166.99" y="426.53">14</text><text x="190.26" y="426.53">14</text><text x="201.89" y="426.53">14</text><text x="213.53" y="426.53">14</text><text x="225.16" y="426.53">16</text><text x="248.43" y="426.53">14</text><text x="260.06" y="426.53">14</text><text x="271.7" y="426.53">14</text><text x="283.33" y="426.53">14</text><text x="294.97" y="426.53">14</text><text x="306.6" y="426.53">14</text><text x="318.24" y="426.53">14</text><text x="329.87" y="426.53">14</text><text x="341.5" y="426.53">16</text><text x="353.14" y="426.53">14</text><text x="364.77" y="426.53">14</text><text x="376.41" y="426.53">14</text><text x="388.04" y="426.53">14</text><text x="399.68" y="426.53">14</text><text x="422.95" y="426.53">14</text><text x="446.21" y="426.53">14</text><text x="469.48" y="426.53">16</text></g>
<g class="a w"><text x="132.09" y="439.3">13</text><text x="166.99" y="439.3">13</text><text x="190.26" y="439.3">13</text><text x="213.53" y="439.3">14</text><text x="225.16" y="439.3">17</text><text x="260.06" y="439.3">14</text><text x="364.77" y="439.3">13</text></g><g class="a k"><text x="108.82" y="439.3">17</text><text x="120.45" y="439.3">13</text><text x="143.72" y="439.3">17</text><text x="155.35" y="439.3">17</text><text x="178.62" y="439.3">17</text><text x="201.89" y="439.3">13</text><text x="236.8" y="439.3">17</text><text x="248.43" y="439.3">13</text><text x="271.7" y="439.3">13</text><text x="283.33" y="439.3">13</text><text x="294.97" y="439.3">13</text><text x="306.6" y="439.3">13</text><text x="318.24" y="439.3">13</text><text x="329.87" y="439.3">13</text><text x="341.5" y="439.3">17</text><text x="353.14" y="439.3">13</text><text x="376.41" y="439.3">13</text><text x="388.04" y="439.3">13</text><text x="399.68" y="439.3">14</text><text x="411.31" y="439.3">17</text><text x="422.95" y="439.3">13</text><text x="434.58" y="439.3">13</text><text x="446.21" y="439.3">14</text><text x="457.85" y="439.3">17</text><text x="469.48" y="439.3">17</text></g>
<g class="a w"><text x="108.82" y="452.06">19</text><text x="248.43" y="452.06">19</text><text x="376.41" y="452.06">19</text><text x="411.31" y="452.06">19</text><text x="422.95" y="452.06">19</text><text x="446.21" y="452.06">19</text></g><g class="a k"><text x="120.45" y="452.06">19</text><text x="132.09" y="452.06">19</text><text x="143.72" y="452.06">19</text><text x="155.35" y="452.06">19</text><text x="166.99" y="452.06">19</text><text x="178.62" y="452.06">19</text><text x="190.26" y="452.06">19</text><text x="201.89" y="452.06">19</text><text x="213.53" y="452.06">19</text><text x="225.16" y="452.06">19</text><text x="236.8" y="452.06">19</text><text x="260.06" y="452.06">19</text><text x="271.7" y="452.06">19</text><text x="283.33" y="452.06">19</text><text x="294.97" y="452.06">19</text><text x="306.6" y="452.06">19</text><text x="318.24" y="452.06">19</text><text x="329.87" y="452.06">19</text><text x="341.5" y="452.06">19</text><text x="353.14" y="452.06">19</text><text x="364.77" y="452.06">19</text><text x="388.04" y="452.06">19</text><text x="399.68" y="452.06">19</text><text x="434.58" y="452.06">19</text><text x="457.85" y="452.06">19</text><text x="469.48" y="452.06">19</text></g>
<g class="a w"><text x="201.89" y="464.82">18</text><text x="271.7" y="464.82">18</text><text x="411.31" y="464.82">19</text><text x="434.58" y="464.82">18</text><text x="446.21" y="464.82">19</text></g><g class="a k"><text x="108.82" y="464.82">19</text><text x="120.45" y="464.82">18</text><text x="132.09" y="464.82">18</text><text x="143.72" y="464.82">19</text><text x="155.35" y="464.82">19</text><text x="166.99" y="464.82">18</text><text x="178.62" y="464.82">19</text><text x="190.26" y="464.82">18</text><text x="213.53" y="464.82">19</text><text x="225.16" y="464.82">19</text><text x="236.8" y="464.82">19</text><text x="248.43" y="464.82">18</text><text x="260.06" y="464.82">19</text><text x="283.33" y="464.82">18</text><text x="294.97" y="464.82">18</text><text x="306.6" y="464.82">18</text><text x="318.24" y="464.82">18</text><text x="329.87" y="464.82">18</text><text x="341.5" y="464.82">19</text><text x="353.14" y="464.82">18</text><text x="364.77" y="464.82">18</text><text x="376.41" y="464.82">18</text><text x="388.04" y="464.82">18</text><text x="399.68" y="464.82">19</text><text x="422.95" y="464.82">18</text><text x="457.85" y="464.82">19</text><text x="469.48" y="464.82">19</text></g>
<g class="a w"><text x="178.62" y="477.58">16</text><text x="260.06" y="477.58">14</text></g><g class="a k"><text x="108.82" y="477.58">16</text><text x="120.45" y="477.58">13</text><text x="132.09" y="477.58">13</text><text x="143.72" y="477.58">16</text><text x="155.35" y="477.58">16</text><text x="166.99" y="477.58">13</text><text x="190.26" y="477.58">13</text><text x="201.89" y="477.58">13</text><text x="213.53" y="477.58">14</text><text x="225.16" y="477.58">16</text><text x="236.8" y="477.58">16</text><text x="248.43" y="477.58">13</text><text x="271.7" y="477.58">13</text><text x="283.33" y="477.58">13</text><text x="294.97" y="477.58">13</text><text x="306.6" y="477.58">13</text><text x="318.24" y="477.58">13</text><text x="329.87" y="477.58">13</text><text x="341.5" y="477.58">16</text><text x="353.14" y="477.58">13</text><text x="364.77" y="477.58">13</text><text x="376.41" y="477.58">13</text><text x="388.04" y="477.58">13</text><text x="399.68" y="477.58">14</text><text x="411.31" y="477.58">16</text><text x="422.95" y="477.58">13</text><text x="434.58" y="477.58">13</text><text x="446.21" y="477.58">14</text><text x="457.85" y="477.58">17</text><text x="469.48" y="477.58">16</text></g>
<g class="rl" font-size="8.22"><text x="100" y="184.88" xml:space="preserve">VASP 5.4 (PBE)</text><text x="100" y="197.64" xml:space="preserve">VASP 5.4 (LDA)</text><text x="100" y="210.41" xml:space="preserve">Kumagai (07)</text><text x="100" y="223.17" xml:space="preserve">Devanathan (98)</text><text x="100" y="235.93" xml:space="preserve">Tersoff GeSi (89)</text><text x="100" y="248.69" xml:space="preserve">Tersoff CSi (89)</text><text x="100" y="261.46" xml:space="preserve">Bazant (98)</text><text x="100" y="274.22" xml:space="preserve">Erhart CSi (05)</text><text x="100" y="286.98" xml:space="preserve">Mistriotis (89)</text><text x="100" y="299.74" xml:space="preserve">Tersoff 38(88)</text><text x="100" y="312.51" xml:space="preserve">Purja (17)</text><text x="100" y="325.27" xml:space="preserve">Munetoh (07)</text><text x="100" y="338.03" xml:space="preserve">Erhart SiIICS (05)</text><text x="100" y="350.79" xml:space="preserve">Starikov (18)</text><text x="100" y="363.56" xml:space="preserve">Balamane (92)</text><text x="100" y="376.32" xml:space="preserve">Stillinger (85)</text><text x="100" y="389.08" xml:space="preserve">Lenosky (00)</text><text x="100" y="401.84" xml:space="preserve">Jiang (12)</text><text x="100" y="414.61" xml:space="preserve">Zhang -1 (14)</text><text x="100" y="427.37" xml:space="preserve">Jelinek (12)</text><text x="100" y="440.13" xml:space="preserve">Hauch (99)</text><text x="100" y="452.89" xml:space="preserve">Du,Lenosky (11)</text><text x="100" y="465.66" xml:space="preserve">Tersoff 37(88)</text><text x="100" y="478.42" xml:space="preserve">Zhang -2 (14)</text></g>
<g class="cl" font-size="8.3"><text transform="translate(110.91 484) rotate(-90)"><tspan class="i">E</tspan><tspan dy="1.33" font-size="5.81" letter-spacing="0.12">eq</tspan><tspan dy="-1.33">-</tspan><tspan dx="0.3">⟨</tspan><tspan class="i">E</tspan><tspan dy="1.33" font-size="5.81" letter-spacing="0.12">vac</tspan><tspan dy="-1.33" dx="0.5">⟩</tspan></text>
<text transform="translate(122.54 484) rotate(-90)"><tspan class="i">V</tspan><tspan dy="1.33" font-size="5.81" letter-spacing="0.12">eq</tspan><tspan dy="-1.33">-</tspan><tspan class="i">B</tspan><tspan dy="1.33" font-size="5.81" letter-spacing="0.12">H</tspan></text>
<text transform="translate(134.18 484) rotate(-90)"><tspan class="i">E</tspan><tspan dy="1.33" font-size="5.81" letter-spacing="0.12">eq</tspan><tspan dy="-1.33">-</tspan><tspan class="i">B</tspan><tspan dy="1.33" font-size="5.81" letter-spacing="0.12">H</tspan></text>
<text transform="translate(145.81 484) rotate(-90)"><tspan class="i">E</tspan><tspan dy="1.33" font-size="5.81" letter-spacing="0.12">eq</tspan><tspan dy="-1.33">-</tspan><tspan dx="0.3">⟨</tspan><tspan class="i">f</tspan><tspan dx="0.5">⟩</tspan></text>
<text transform="translate(157.44 484) rotate(-90)"><tspan class="i">V</tspan><tspan dy="1.33" font-size="5.81" letter-spacing="0.12">eq</tspan><tspan dy="-1.33">-</tspan><tspan dx="0.3">⟨</tspan><tspan class="i">E</tspan><tspan dy="1.33" font-size="5.81" letter-spacing="0.12">vac</tspan><tspan dy="-1.33" dx="0.5">⟩</tspan></text>
<text transform="translate(169.08 484) rotate(-90)"><tspan class="i">E</tspan><tspan dy="1.33" font-size="5.81" letter-spacing="0.12">eq</tspan><tspan dy="-1.33">-</tspan><tspan class="i">G</tspan><tspan dy="1.33" font-size="5.81" letter-spacing="0.12">H</tspan></text>
<text transform="translate(180.71 484) rotate(-90)"><tspan class="i">B</tspan><tspan dy="1.33" font-size="5.81" letter-spacing="0.12">eq</tspan><tspan dy="-1.33">-</tspan><tspan class="i">V</tspan><tspan dy="1.33" font-size="5.81" letter-spacing="0.12">eq</tspan></text>
<text transform="translate(192.35 484) rotate(-90)"><tspan class="i">E</tspan><tspan dy="1.33" font-size="5.81" letter-spacing="0.12">eq</tspan><tspan dy="-1.33">-</tspan><tspan class="i">E</tspan><tspan dy="1.33" font-size="5.81" letter-spacing="0.12">H</tspan></text>
<text transform="translate(203.98 484) rotate(-90)"><tspan class="i">V</tspan><tspan dy="1.33" font-size="5.81" letter-spacing="0.12">eq</tspan><tspan dy="-1.33">-</tspan><tspan class="i">E</tspan><tspan dy="1.33" font-size="5.81" letter-spacing="0.12">H</tspan></text>
<text transform="translate(215.62 484) rotate(-90)"><tspan class="i">E</tspan><tspan dy="1.33" font-size="5.81" letter-spacing="0.12">eq</tspan><tspan dy="-1.33">-</tspan><tspan dx="0.3">⟨</tspan><tspan class="i">C</tspan><tspan dy="1.33" font-size="5.81" letter-spacing="0.12">eig</tspan><tspan dy="-1.33" dx="0.5">⟩</tspan></text>
<text transform="translate(227.25 484) rotate(-90)"><tspan class="i">B</tspan><tspan dy="1.33" font-size="5.81" letter-spacing="0.12">eq</tspan><tspan dy="-1.33">-</tspan><tspan class="i">E</tspan><tspan dy="1.33" font-size="5.81" letter-spacing="0.12">eq</tspan></text>
<text transform="translate(238.89 484) rotate(-90)"><tspan class="i">V</tspan><tspan dy="1.33" font-size="5.81" letter-spacing="0.12">eq</tspan><tspan dy="-1.33">-</tspan><tspan dx="0.3">⟨</tspan><tspan class="i">f</tspan><tspan dx="0.5">⟩</tspan></text>
<text transform="translate(250.52 484) rotate(-90)"><tspan class="i">ν</tspan><tspan dy="1.33" font-size="5.81" letter-spacing="0.12">H</tspan><tspan dy="-1.33">-</tspan><tspan dx="0.3">⟨</tspan><tspan class="i">f</tspan><tspan dx="0.5">⟩</tspan></text>
<text transform="translate(262.15 484) rotate(-90)"><tspan class="i">V</tspan><tspan dy="1.33" font-size="5.81" letter-spacing="0.12">eq</tspan><tspan dy="-1.33">-</tspan><tspan dx="0.3">⟨</tspan><tspan class="i">C</tspan><tspan dy="1.33" font-size="5.81" letter-spacing="0.12">eig</tspan><tspan dy="-1.33" dx="0.5">⟩</tspan></text>
<text transform="translate(273.79 484) rotate(-90)"><tspan class="i">V</tspan><tspan dy="1.33" font-size="5.81" letter-spacing="0.12">eq</tspan><tspan dy="-1.33">-</tspan><tspan class="i">G</tspan><tspan dy="1.33" font-size="5.81" letter-spacing="0.12">H</tspan></text>
<text transform="translate(285.42 484) rotate(-90)"><tspan class="i">ν</tspan><tspan dy="1.33" font-size="5.81" letter-spacing="0.12">H</tspan><tspan dy="-1.33">-</tspan><tspan dx="0.3">⟨</tspan><tspan class="i">E</tspan><tspan dy="1.33" font-size="5.81" letter-spacing="0.12">vac</tspan><tspan dy="-1.33" dx="0.5">⟩</tspan></text>
<text transform="translate(297.06 484) rotate(-90)"><tspan class="i">A</tspan><tspan dy="1.33" font-size="5.81" letter-spacing="0.12">VR</tspan><tspan dy="-1.33">-</tspan><tspan dx="0.3">⟨</tspan><tspan class="i">E</tspan><tspan dy="1.33" font-size="5.81" letter-spacing="0.12">vac</tspan><tspan dy="-1.33" dx="0.5">⟩</tspan></text>
<text transform="translate(308.69 484) rotate(-90)"><tspan class="i">E</tspan><tspan dy="1.33" font-size="5.81" letter-spacing="0.12">H</tspan><tspan dy="-1.33">-</tspan><tspan dx="0.3">⟨</tspan><tspan class="i">E</tspan><tspan dy="1.33" font-size="5.81" letter-spacing="0.12">vac</tspan><tspan dy="-1.33" dx="0.5">⟩</tspan></text>
<text transform="translate(320.33 484) rotate(-90)"><tspan class="i">A</tspan><tspan dy="1.33" font-size="5.81" letter-spacing="0.12">VR</tspan><tspan dy="-1.33">-</tspan><tspan dx="0.3">⟨</tspan><tspan class="i">f</tspan><tspan dx="0.5">⟩</tspan></text>
<text transform="translate(331.96 484) rotate(-90)"><tspan class="i">G</tspan><tspan dy="1.33" font-size="5.81" letter-spacing="0.12">H</tspan><tspan dy="-1.33">-</tspan><tspan dx="0.3">⟨</tspan><tspan class="i">E</tspan><tspan dy="1.33" font-size="5.81" letter-spacing="0.12">vac</tspan><tspan dy="-1.33" dx="0.5">⟩</tspan></text>
<text transform="translate(343.59 484) rotate(-90)"><tspan class="i">B</tspan><tspan dy="1.33" font-size="5.81" letter-spacing="0.12">eq</tspan><tspan dy="-1.33">-</tspan><tspan dx="0.3">⟨</tspan><tspan class="i">E</tspan><tspan dy="1.33" font-size="5.81" letter-spacing="0.12">vac</tspan><tspan dy="-1.33" dx="0.5">⟩</tspan></text>
<text transform="translate(355.23 484) rotate(-90)"><tspan class="i">V</tspan><tspan dy="1.33" font-size="5.81" letter-spacing="0.12">eq</tspan><tspan dy="-1.33">-</tspan><tspan class="i">ν</tspan><tspan dy="1.33" font-size="5.81" letter-spacing="0.12">H</tspan></text>
<text transform="translate(366.86 484) rotate(-90)"><tspan class="i">E</tspan><tspan dy="1.33" font-size="5.81" letter-spacing="0.12">eq</tspan><tspan dy="-1.33">-</tspan><tspan class="i">ν</tspan><tspan dy="1.33" font-size="5.81" letter-spacing="0.12">H</tspan></text>
<text transform="translate(378.5 484) rotate(-90)"><tspan class="i">E</tspan><tspan dy="1.33" font-size="5.81" letter-spacing="0.12">H</tspan><tspan dy="-1.33">-</tspan><tspan dx="0.3">⟨</tspan><tspan class="i">f</tspan><tspan dx="0.5">⟩</tspan></text>
<text transform="translate(390.13 484) rotate(-90)"><tspan class="i">B</tspan><tspan dy="1.33" font-size="5.81" letter-spacing="0.12">H</tspan><tspan dy="-1.33">-</tspan><tspan dx="0.3">⟨</tspan><tspan class="i">E</tspan><tspan dy="1.33" font-size="5.81" letter-spacing="0.12">vac</tspan><tspan dy="-1.33" dx="0.5">⟩</tspan></text>
<text transform="translate(401.77 484) rotate(-90)"><tspan dx="0.3">⟨</tspan><tspan class="i">C</tspan><tspan dy="1.33" font-size="5.81" letter-spacing="0.12">eig</tspan><tspan dy="-1.33" dx="0.5">⟩</tspan><tspan>-</tspan><tspan dx="0.3">⟨</tspan><tspan class="i">E</tspan><tspan dy="1.33" font-size="5.81" letter-spacing="0.12">vac</tspan><tspan dy="-1.33" dx="0.5">⟩</tspan></text>
<text transform="translate(413.4 484) rotate(-90)"><tspan class="i">B</tspan><tspan dy="1.33" font-size="5.81" letter-spacing="0.12">eq</tspan><tspan dy="-1.33">-</tspan><tspan dx="0.3">⟨</tspan><tspan class="i">f</tspan><tspan dx="0.5">⟩</tspan></text>
<text transform="translate(425.04 484) rotate(-90)"><tspan class="i">G</tspan><tspan dy="1.33" font-size="5.81" letter-spacing="0.12">H</tspan><tspan dy="-1.33">-</tspan><tspan dx="0.3">⟨</tspan><tspan class="i">f</tspan><tspan dx="0.5">⟩</tspan></text>
<text transform="translate(436.67 484) rotate(-90)"><tspan class="i">B</tspan><tspan dy="1.33" font-size="5.81" letter-spacing="0.12">H</tspan><tspan dy="-1.33">-</tspan><tspan dx="0.3">⟨</tspan><tspan class="i">f</tspan><tspan dx="0.5">⟩</tspan></text>
<text transform="translate(448.3 484) rotate(-90)"><tspan dx="0.3">⟨</tspan><tspan class="i">C</tspan><tspan dy="1.33" font-size="5.81" letter-spacing="0.12">eig</tspan><tspan dy="-1.33" dx="0.5">⟩</tspan><tspan>-</tspan><tspan dx="0.3">⟨</tspan><tspan class="i">f</tspan><tspan dx="0.5">⟩</tspan></text>
<text transform="translate(459.94 484) rotate(-90)"><tspan dx="0.3">⟨</tspan><tspan class="i">f</tspan><tspan dx="0.5">⟩</tspan><tspan>-</tspan><tspan dx="0.3">⟨</tspan><tspan class="i">E</tspan><tspan dy="1.33" font-size="5.81" letter-spacing="0.12">vac</tspan><tspan dy="-1.33" dx="0.5">⟩</tspan></text>
<text transform="translate(471.57 484) rotate(-90)"><tspan class="i">V</tspan><tspan dy="1.33" font-size="5.81" letter-spacing="0.12">eq</tspan><tspan dy="-1.33">-</tspan><tspan class="i">E</tspan><tspan dy="1.33" font-size="5.81" letter-spacing="0.12">eq</tspan></text>
</g>
<rect x="498.6" y="175" width="15.4" height="306.3" fill="url(#sg)"/>
<g class="cb"><text x="517.2" y="208.7">0.8</text><text x="517.2" y="269.96">0.4</text><text x="517.2" y="331.22">0.0</text><text x="517.2" y="392.48">−0.4</text><text x="517.2" y="453.74">−0.8</text></g>
</g>
</svg>
</body></html>
